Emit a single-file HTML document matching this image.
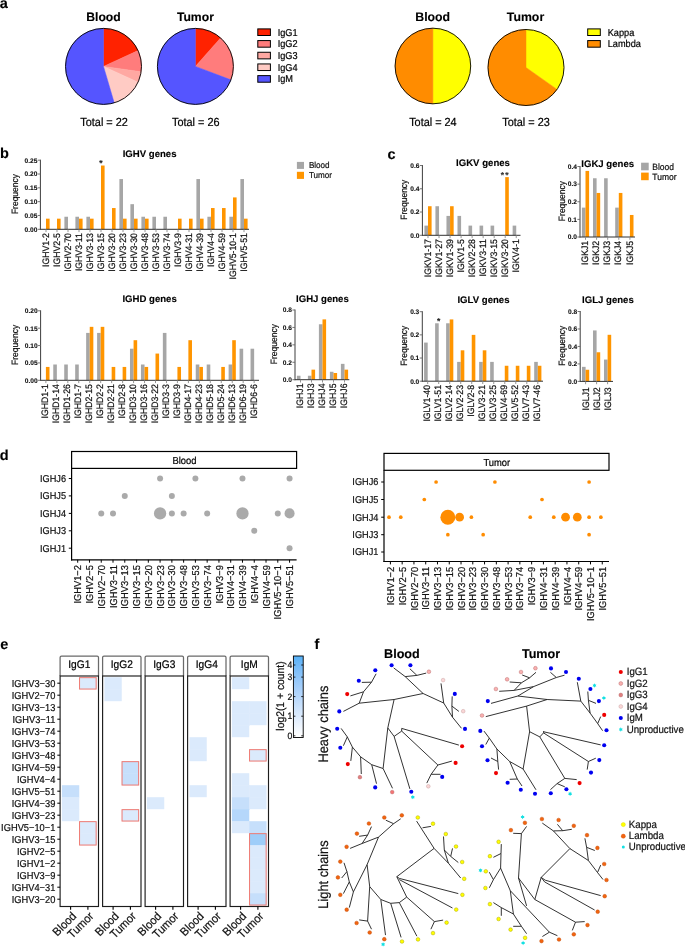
<!DOCTYPE html>
<html><head><meta charset="utf-8"><style>
html,body{margin:0;padding:0;background:#fff;overflow:hidden;width:685px;height:947px;}
svg{display:block;will-change:transform;text-rendering:geometricPrecision;font-family:"Liberation Sans", sans-serif;}
</style></head><body>
<svg width="685" height="947" viewBox="0 0 685 947">
<rect width="685" height="947" fill="#fff"/>
<text x="-0.3" y="7.8" font-size="14.5" text-anchor="start" font-weight="bold" stroke="#000" stroke-width="0.12" fill="#000">a</text>
<text x="0.1" y="158.4" font-size="14.5" text-anchor="start" font-weight="bold" stroke="#000" stroke-width="0.12" fill="#000">b</text>
<text x="387.6" y="158.6" font-size="14.5" text-anchor="start" font-weight="bold" stroke="#000" stroke-width="0.12" fill="#000">c</text>
<text x="-0.2" y="459.7" font-size="14.5" text-anchor="start" font-weight="bold" stroke="#000" stroke-width="0.12" fill="#000">d</text>
<text x="0.3" y="648.8" font-size="14.5" text-anchor="start" font-weight="bold" stroke="#000" stroke-width="0.12" fill="#000">e</text>
<text x="314.5" y="648.8" font-size="14.5" text-anchor="start" font-weight="bold" stroke="#000" stroke-width="0.12" fill="#000">f</text>
<path d="M103.5 66.4L103.5 28.4A38 38 0 0 1 138.07 50.61Z" fill="#ff2200" stroke="#ff2200" stroke-width="0.5" stroke-linejoin="round"/>
<path d="M103.5 66.4L138.07 50.61A38 38 0 0 1 141.11 71.81Z" fill="#ff7c7c" stroke="#ff7c7c" stroke-width="0.5" stroke-linejoin="round"/>
<path d="M103.5 66.4L141.11 71.81A38 38 0 0 1 138.07 82.19Z" fill="#ffa8a2" stroke="#ffa8a2" stroke-width="0.5" stroke-linejoin="round"/>
<path d="M103.5 66.4L138.07 82.19A38 38 0 0 1 114.21 102.86Z" fill="#ffcbc4" stroke="#ffcbc4" stroke-width="0.5" stroke-linejoin="round"/>
<path d="M103.5 66.4L114.21 102.86A38 38 0 1 1 103.5 28.4Z" fill="#5555ff" stroke="#5555ff" stroke-width="0.5" stroke-linejoin="round"/>
<circle cx="103.5" cy="66.4" r="38" fill="none" stroke="#000" stroke-width="0.9"/>
<path d="M195.4 66.4L195.4 28.4A38 38 0 0 1 220.6 37.96Z" fill="#ff2200" stroke="#ff2200" stroke-width="0.5" stroke-linejoin="round"/>
<path d="M195.4 66.4L220.6 37.96A38 38 0 0 1 230.93 79.87Z" fill="#ff7c7c" stroke="#ff7c7c" stroke-width="0.5" stroke-linejoin="round"/>
<path d="M195.4 66.4L230.93 79.87A38 38 0 1 1 195.4 28.4Z" fill="#5555ff" stroke="#5555ff" stroke-width="0.5" stroke-linejoin="round"/>
<circle cx="195.4" cy="66.4" r="38" fill="none" stroke="#000" stroke-width="0.9"/>
<text x="103.5" y="21" font-size="12.2" text-anchor="middle" font-weight="bold" stroke="#000" stroke-width="0.12" fill="#000">Blood</text>
<text x="195.4" y="21" font-size="12.2" text-anchor="middle" font-weight="bold" stroke="#000" stroke-width="0.12" fill="#000">Tumor</text>
<text x="104.1" y="126.3" font-size="10.9" text-anchor="middle" stroke="#000" stroke-width="0.2" fill="#000" transform="translate(0 -10.1) scale(1 1.08)">Total = 22</text>
<text x="195.8" y="126.3" font-size="10.9" text-anchor="middle" stroke="#000" stroke-width="0.2" fill="#000" transform="translate(0 -10.1) scale(1 1.08)">Total = 26</text>
<rect x="257.8" y="28.9" width="12.6" height="6.6" fill="#ff2200" stroke="#000" stroke-width="1"/>
<text x="277.7" y="35.5" font-size="9.2" text-anchor="start" stroke="#000" stroke-width="0.2" fill="#000" transform="translate(0 -2.84) scale(1 1.08)">IgG1</text>
<rect x="257.8" y="40.58" width="12.6" height="6.6" fill="#ff7c7c" stroke="#000" stroke-width="1"/>
<text x="277.7" y="47.18" font-size="9.2" text-anchor="start" stroke="#000" stroke-width="0.2" fill="#000" transform="translate(0 -3.77) scale(1 1.08)">IgG2</text>
<rect x="257.8" y="52.26" width="12.6" height="6.6" fill="#ffa8a2" stroke="#000" stroke-width="1"/>
<text x="277.7" y="58.86" font-size="9.2" text-anchor="start" stroke="#000" stroke-width="0.2" fill="#000" transform="translate(0 -4.71) scale(1 1.08)">IgG3</text>
<rect x="257.8" y="63.94" width="12.6" height="6.6" fill="#ffcbc4" stroke="#000" stroke-width="1"/>
<text x="277.7" y="70.54" font-size="9.2" text-anchor="start" stroke="#000" stroke-width="0.2" fill="#000" transform="translate(0 -5.64) scale(1 1.08)">IgG4</text>
<rect x="257.8" y="75.62" width="12.6" height="6.6" fill="#5555ff" stroke="#000" stroke-width="1"/>
<text x="277.7" y="82.22" font-size="9.2" text-anchor="start" stroke="#000" stroke-width="0.2" fill="#000" transform="translate(0 -6.58) scale(1 1.08)">IgM</text>
<path d="M432.9 66L432.9 28.2A37.8 37.8 0 0 1 432.9 103.8Z" fill="#ffff00" stroke="#ffff00" stroke-width="0.5" stroke-linejoin="round"/>
<path d="M432.9 66L432.9 103.8A37.8 37.8 0 0 1 432.9 28.2Z" fill="#ff8c00" stroke="#ff8c00" stroke-width="0.5" stroke-linejoin="round"/>
<circle cx="432.9" cy="66" r="37.8" fill="none" stroke="#000" stroke-width="0.9"/>
<path d="M526 67.5L526 29.5A38 38 0 0 1 557.04 89.41Z" fill="#ffff00" stroke="#ffff00" stroke-width="0.5" stroke-linejoin="round"/>
<path d="M526 67.5L557.04 89.41A38 38 0 1 1 526 29.5Z" fill="#ff8c00" stroke="#ff8c00" stroke-width="0.5" stroke-linejoin="round"/>
<circle cx="526" cy="67.5" r="38" fill="none" stroke="#000" stroke-width="0.9"/>
<text x="432.7" y="21.1" font-size="12.3" text-anchor="middle" font-weight="bold" stroke="#000" stroke-width="0.12" fill="#000">Blood</text>
<text x="525.5" y="21.1" font-size="12.3" text-anchor="middle" font-weight="bold" stroke="#000" stroke-width="0.12" fill="#000">Tumor</text>
<text x="432.9" y="126.3" font-size="10.9" text-anchor="middle" stroke="#000" stroke-width="0.2" fill="#000" transform="translate(0 -10.1) scale(1 1.08)">Total = 24</text>
<text x="526" y="126.3" font-size="10.9" text-anchor="middle" stroke="#000" stroke-width="0.2" fill="#000" transform="translate(0 -10.1) scale(1 1.08)">Total = 23</text>
<rect x="587.7" y="28.9" width="12.6" height="6.6" fill="#ffff00" stroke="#000" stroke-width="1"/>
<text x="607.7" y="35.5" font-size="9.2" text-anchor="start" stroke="#000" stroke-width="0.2" fill="#000" transform="translate(0 -2.84) scale(1 1.08)">Kappa</text>
<rect x="587.7" y="40.58" width="12.6" height="6.6" fill="#ff8c00" stroke="#000" stroke-width="1"/>
<text x="607.7" y="47.18" font-size="9.2" text-anchor="start" stroke="#000" stroke-width="0.2" fill="#000" transform="translate(0 -3.77) scale(1 1.08)">Lambda</text>
<rect x="46" y="218.67" width="3.6" height="10.63" fill="#ff9500" stroke="none" stroke-width="1"/>
<rect x="57" y="218.67" width="3.6" height="10.63" fill="#ff9500" stroke="none" stroke-width="1"/>
<rect x="64.4" y="216.74" width="3.6" height="12.56" fill="#a6a6a6" stroke="none" stroke-width="1"/>
<rect x="75.4" y="216.74" width="3.6" height="12.56" fill="#a6a6a6" stroke="none" stroke-width="1"/>
<rect x="79" y="218.67" width="3.6" height="10.63" fill="#ff9500" stroke="none" stroke-width="1"/>
<rect x="86.4" y="216.74" width="3.6" height="12.56" fill="#a6a6a6" stroke="none" stroke-width="1"/>
<rect x="90" y="218.67" width="3.6" height="10.63" fill="#ff9500" stroke="none" stroke-width="1"/>
<rect x="101" y="165.52" width="3.6" height="63.78" fill="#ff9500" stroke="none" stroke-width="1"/>
<rect x="112" y="208.04" width="3.6" height="21.26" fill="#ff9500" stroke="none" stroke-width="1"/>
<rect x="119.4" y="179.05" width="3.6" height="50.25" fill="#a6a6a6" stroke="none" stroke-width="1"/>
<rect x="123" y="218.67" width="3.6" height="10.63" fill="#ff9500" stroke="none" stroke-width="1"/>
<rect x="130.4" y="204.17" width="3.6" height="25.13" fill="#a6a6a6" stroke="none" stroke-width="1"/>
<rect x="134" y="218.67" width="3.6" height="10.63" fill="#ff9500" stroke="none" stroke-width="1"/>
<rect x="141.4" y="216.74" width="3.6" height="12.56" fill="#a6a6a6" stroke="none" stroke-width="1"/>
<rect x="145" y="218.67" width="3.6" height="10.63" fill="#ff9500" stroke="none" stroke-width="1"/>
<rect x="152.4" y="216.74" width="3.6" height="12.56" fill="#a6a6a6" stroke="none" stroke-width="1"/>
<rect x="163.4" y="216.74" width="3.6" height="12.56" fill="#a6a6a6" stroke="none" stroke-width="1"/>
<rect x="178" y="218.67" width="3.6" height="10.63" fill="#ff9500" stroke="none" stroke-width="1"/>
<rect x="189" y="218.67" width="3.6" height="10.63" fill="#ff9500" stroke="none" stroke-width="1"/>
<rect x="196.4" y="179.05" width="3.6" height="50.25" fill="#a6a6a6" stroke="none" stroke-width="1"/>
<rect x="200" y="218.67" width="3.6" height="10.63" fill="#ff9500" stroke="none" stroke-width="1"/>
<rect x="207.4" y="216.74" width="3.6" height="12.56" fill="#a6a6a6" stroke="none" stroke-width="1"/>
<rect x="211" y="208.04" width="3.6" height="21.26" fill="#ff9500" stroke="none" stroke-width="1"/>
<rect x="222" y="208.04" width="3.6" height="21.26" fill="#ff9500" stroke="none" stroke-width="1"/>
<rect x="229.4" y="216.74" width="3.6" height="12.56" fill="#a6a6a6" stroke="none" stroke-width="1"/>
<rect x="233" y="197.41" width="3.6" height="31.89" fill="#ff9500" stroke="none" stroke-width="1"/>
<rect x="240.4" y="179.05" width="3.6" height="50.25" fill="#a6a6a6" stroke="none" stroke-width="1"/>
<rect x="244" y="218.67" width="3.6" height="10.63" fill="#ff9500" stroke="none" stroke-width="1"/>
<line x1="40.4" y1="159.7" x2="40.4" y2="229.8" stroke="#333" stroke-width="0.95"/>
<line x1="39.9" y1="229.3" x2="249" y2="229.3" stroke="#333" stroke-width="1"/>
<line x1="37.8" y1="229.3" x2="40.4" y2="229.3" stroke="#666" stroke-width="0.9"/>
<text x="37.4" y="231.65" font-size="6.6" text-anchor="end" font-weight="bold" stroke="#111" stroke-width="0.12" fill="#111">0.00</text>
<line x1="37.8" y1="215.48" x2="40.4" y2="215.48" stroke="#666" stroke-width="0.9"/>
<text x="37.4" y="217.83" font-size="6.6" text-anchor="end" font-weight="bold" stroke="#111" stroke-width="0.12" fill="#111">0.05</text>
<line x1="37.8" y1="201.66" x2="40.4" y2="201.66" stroke="#666" stroke-width="0.9"/>
<text x="37.4" y="204.01" font-size="6.6" text-anchor="end" font-weight="bold" stroke="#111" stroke-width="0.12" fill="#111">0.10</text>
<line x1="37.8" y1="187.84" x2="40.4" y2="187.84" stroke="#666" stroke-width="0.9"/>
<text x="37.4" y="190.19" font-size="6.6" text-anchor="end" font-weight="bold" stroke="#111" stroke-width="0.12" fill="#111">0.15</text>
<line x1="37.8" y1="174.02" x2="40.4" y2="174.02" stroke="#666" stroke-width="0.9"/>
<text x="37.4" y="176.37" font-size="6.6" text-anchor="end" font-weight="bold" stroke="#111" stroke-width="0.12" fill="#111">0.20</text>
<line x1="37.8" y1="160.2" x2="40.4" y2="160.2" stroke="#666" stroke-width="0.9"/>
<text x="37.4" y="162.55" font-size="6.6" text-anchor="end" font-weight="bold" stroke="#111" stroke-width="0.12" fill="#111">0.25</text>
<line x1="46" y1="229.3" x2="46" y2="232.1" stroke="#888" stroke-width="0.9"/>
<text x="48.6" y="233.1" font-size="8.7" text-anchor="end" stroke="#111" stroke-width="0.2" fill="#111" transform="rotate(-90 48.6 233.1) translate(0 -18.65) scale(1 1.08)">IGHV1-2</text>
<line x1="57" y1="229.3" x2="57" y2="232.1" stroke="#888" stroke-width="0.9"/>
<text x="59.6" y="233.1" font-size="8.7" text-anchor="end" stroke="#111" stroke-width="0.2" fill="#111" transform="rotate(-90 59.6 233.1) translate(0 -18.65) scale(1 1.08)">IGHV2-5</text>
<line x1="68" y1="229.3" x2="68" y2="232.1" stroke="#888" stroke-width="0.9"/>
<text x="70.6" y="233.1" font-size="8.7" text-anchor="end" stroke="#111" stroke-width="0.2" fill="#111" transform="rotate(-90 70.6 233.1) translate(0 -18.65) scale(1 1.08)">IGHV2-70</text>
<line x1="79" y1="229.3" x2="79" y2="232.1" stroke="#888" stroke-width="0.9"/>
<text x="81.6" y="233.1" font-size="8.7" text-anchor="end" stroke="#111" stroke-width="0.2" fill="#111" transform="rotate(-90 81.6 233.1) translate(0 -18.65) scale(1 1.08)">IGHV3-11</text>
<line x1="90" y1="229.3" x2="90" y2="232.1" stroke="#888" stroke-width="0.9"/>
<text x="92.6" y="233.1" font-size="8.7" text-anchor="end" stroke="#111" stroke-width="0.2" fill="#111" transform="rotate(-90 92.6 233.1) translate(0 -18.65) scale(1 1.08)">IGHV3-13</text>
<line x1="101" y1="229.3" x2="101" y2="232.1" stroke="#888" stroke-width="0.9"/>
<text x="103.6" y="233.1" font-size="8.7" text-anchor="end" stroke="#111" stroke-width="0.2" fill="#111" transform="rotate(-90 103.6 233.1) translate(0 -18.65) scale(1 1.08)">IGHV3-15</text>
<line x1="112" y1="229.3" x2="112" y2="232.1" stroke="#888" stroke-width="0.9"/>
<text x="114.6" y="233.1" font-size="8.7" text-anchor="end" stroke="#111" stroke-width="0.2" fill="#111" transform="rotate(-90 114.6 233.1) translate(0 -18.65) scale(1 1.08)">IGHV3-20</text>
<line x1="123" y1="229.3" x2="123" y2="232.1" stroke="#888" stroke-width="0.9"/>
<text x="125.6" y="233.1" font-size="8.7" text-anchor="end" stroke="#111" stroke-width="0.2" fill="#111" transform="rotate(-90 125.6 233.1) translate(0 -18.65) scale(1 1.08)">IGHV3-23</text>
<line x1="134" y1="229.3" x2="134" y2="232.1" stroke="#888" stroke-width="0.9"/>
<text x="136.6" y="233.1" font-size="8.7" text-anchor="end" stroke="#111" stroke-width="0.2" fill="#111" transform="rotate(-90 136.6 233.1) translate(0 -18.65) scale(1 1.08)">IGHV3-30</text>
<line x1="145" y1="229.3" x2="145" y2="232.1" stroke="#888" stroke-width="0.9"/>
<text x="147.6" y="233.1" font-size="8.7" text-anchor="end" stroke="#111" stroke-width="0.2" fill="#111" transform="rotate(-90 147.6 233.1) translate(0 -18.65) scale(1 1.08)">IGHV3-48</text>
<line x1="156" y1="229.3" x2="156" y2="232.1" stroke="#888" stroke-width="0.9"/>
<text x="158.6" y="233.1" font-size="8.7" text-anchor="end" stroke="#111" stroke-width="0.2" fill="#111" transform="rotate(-90 158.6 233.1) translate(0 -18.65) scale(1 1.08)">IGHV3-53</text>
<line x1="167" y1="229.3" x2="167" y2="232.1" stroke="#888" stroke-width="0.9"/>
<text x="169.6" y="233.1" font-size="8.7" text-anchor="end" stroke="#111" stroke-width="0.2" fill="#111" transform="rotate(-90 169.6 233.1) translate(0 -18.65) scale(1 1.08)">IGHV3-74</text>
<line x1="178" y1="229.3" x2="178" y2="232.1" stroke="#888" stroke-width="0.9"/>
<text x="180.6" y="233.1" font-size="8.7" text-anchor="end" stroke="#111" stroke-width="0.2" fill="#111" transform="rotate(-90 180.6 233.1) translate(0 -18.65) scale(1 1.08)">IGHV3-9</text>
<line x1="189" y1="229.3" x2="189" y2="232.1" stroke="#888" stroke-width="0.9"/>
<text x="191.6" y="233.1" font-size="8.7" text-anchor="end" stroke="#111" stroke-width="0.2" fill="#111" transform="rotate(-90 191.6 233.1) translate(0 -18.65) scale(1 1.08)">IGHV4-31</text>
<line x1="200" y1="229.3" x2="200" y2="232.1" stroke="#888" stroke-width="0.9"/>
<text x="202.6" y="233.1" font-size="8.7" text-anchor="end" stroke="#111" stroke-width="0.2" fill="#111" transform="rotate(-90 202.6 233.1) translate(0 -18.65) scale(1 1.08)">IGHV4-39</text>
<line x1="211" y1="229.3" x2="211" y2="232.1" stroke="#888" stroke-width="0.9"/>
<text x="213.6" y="233.1" font-size="8.7" text-anchor="end" stroke="#111" stroke-width="0.2" fill="#111" transform="rotate(-90 213.6 233.1) translate(0 -18.65) scale(1 1.08)">IGHV4-4</text>
<line x1="222" y1="229.3" x2="222" y2="232.1" stroke="#888" stroke-width="0.9"/>
<text x="224.6" y="233.1" font-size="8.7" text-anchor="end" stroke="#111" stroke-width="0.2" fill="#111" transform="rotate(-90 224.6 233.1) translate(0 -18.65) scale(1 1.08)">IGHV4-59</text>
<line x1="233" y1="229.3" x2="233" y2="232.1" stroke="#888" stroke-width="0.9"/>
<text x="235.6" y="233.1" font-size="8.7" text-anchor="end" stroke="#111" stroke-width="0.2" fill="#111" transform="rotate(-90 235.6 233.1) translate(0 -18.65) scale(1 1.08)">IGHV5-10-1</text>
<line x1="244" y1="229.3" x2="244" y2="232.1" stroke="#888" stroke-width="0.9"/>
<text x="246.6" y="233.1" font-size="8.7" text-anchor="end" stroke="#111" stroke-width="0.2" fill="#111" transform="rotate(-90 246.6 233.1) translate(0 -18.65) scale(1 1.08)">IGHV5-51</text>
<text x="149.6" y="157.1" font-size="9.6" text-anchor="middle" font-weight="bold" stroke="#000" stroke-width="0.12" fill="#000">IGHV genes</text>
<text x="17.9" y="194.05" font-size="8.5" text-anchor="middle" stroke="#111" stroke-width="0.2" fill="#111" transform="rotate(-90 17.9 194.05) translate(0 -15.52) scale(1 1.08)">Frequency</text>
<text x="101" y="165.5" font-size="8.5" text-anchor="middle" font-weight="bold" stroke="#222" stroke-width="0.12" fill="#222">*</text>
<rect x="296.9" y="161.9" width="7.1" height="7" fill="#a6a6a6" stroke="none" stroke-width="1"/>
<rect x="296.9" y="171.8" width="7.1" height="7.1" fill="#ff9500" stroke="none" stroke-width="1"/>
<text x="308.9" y="168.3" font-size="8.1" text-anchor="start" stroke="#111" stroke-width="0.2" fill="#111" transform="translate(0 -13.46) scale(1 1.08)">Blood</text>
<text x="308.9" y="178.2" font-size="8.1" text-anchor="start" stroke="#111" stroke-width="0.2" fill="#111" transform="translate(0 -14.26) scale(1 1.08)">Tumor</text>
<rect x="45.9" y="366.93" width="3.6" height="13.37" fill="#ff9500" stroke="none" stroke-width="1"/>
<rect x="53.26" y="364.5" width="3.6" height="15.8" fill="#a6a6a6" stroke="none" stroke-width="1"/>
<rect x="64.22" y="364.5" width="3.6" height="15.8" fill="#a6a6a6" stroke="none" stroke-width="1"/>
<rect x="75.18" y="364.5" width="3.6" height="15.8" fill="#a6a6a6" stroke="none" stroke-width="1"/>
<rect x="86.14" y="332.91" width="3.6" height="47.39" fill="#a6a6a6" stroke="none" stroke-width="1"/>
<rect x="89.74" y="326.84" width="3.6" height="53.46" fill="#ff9500" stroke="none" stroke-width="1"/>
<rect x="97.1" y="332.91" width="3.6" height="47.39" fill="#a6a6a6" stroke="none" stroke-width="1"/>
<rect x="100.7" y="326.84" width="3.6" height="53.46" fill="#ff9500" stroke="none" stroke-width="1"/>
<rect x="111.66" y="366.93" width="3.6" height="13.37" fill="#ff9500" stroke="none" stroke-width="1"/>
<rect x="122.62" y="366.93" width="3.6" height="13.37" fill="#ff9500" stroke="none" stroke-width="1"/>
<rect x="129.98" y="348.71" width="3.6" height="31.59" fill="#a6a6a6" stroke="none" stroke-width="1"/>
<rect x="133.58" y="340.2" width="3.6" height="40.1" fill="#ff9500" stroke="none" stroke-width="1"/>
<rect x="140.94" y="364.5" width="3.6" height="15.8" fill="#a6a6a6" stroke="none" stroke-width="1"/>
<rect x="144.54" y="366.93" width="3.6" height="13.37" fill="#ff9500" stroke="none" stroke-width="1"/>
<rect x="155.5" y="353.57" width="3.6" height="26.73" fill="#ff9500" stroke="none" stroke-width="1"/>
<rect x="162.86" y="332.91" width="3.6" height="47.39" fill="#a6a6a6" stroke="none" stroke-width="1"/>
<rect x="177.42" y="366.93" width="3.6" height="13.37" fill="#ff9500" stroke="none" stroke-width="1"/>
<rect x="188.38" y="340.2" width="3.6" height="40.1" fill="#ff9500" stroke="none" stroke-width="1"/>
<rect x="195.74" y="364.5" width="3.6" height="15.8" fill="#a6a6a6" stroke="none" stroke-width="1"/>
<rect x="199.34" y="366.93" width="3.6" height="13.37" fill="#ff9500" stroke="none" stroke-width="1"/>
<rect x="206.7" y="364.5" width="3.6" height="15.8" fill="#a6a6a6" stroke="none" stroke-width="1"/>
<rect x="221.26" y="366.93" width="3.6" height="13.37" fill="#ff9500" stroke="none" stroke-width="1"/>
<rect x="228.62" y="364.5" width="3.6" height="15.8" fill="#a6a6a6" stroke="none" stroke-width="1"/>
<rect x="232.22" y="340.2" width="3.6" height="40.1" fill="#ff9500" stroke="none" stroke-width="1"/>
<rect x="239.58" y="348.71" width="3.6" height="31.59" fill="#a6a6a6" stroke="none" stroke-width="1"/>
<rect x="250.54" y="348.71" width="3.6" height="31.59" fill="#a6a6a6" stroke="none" stroke-width="1"/>
<line x1="40.6" y1="310.3" x2="40.6" y2="380.8" stroke="#333" stroke-width="0.95"/>
<line x1="40.1" y1="380.3" x2="259" y2="380.3" stroke="#333" stroke-width="1"/>
<line x1="38" y1="380.3" x2="40.6" y2="380.3" stroke="#666" stroke-width="0.9"/>
<text x="37.6" y="382.65" font-size="6.6" text-anchor="end" font-weight="bold" stroke="#111" stroke-width="0.12" fill="#111">0.00</text>
<line x1="38" y1="362.93" x2="40.6" y2="362.93" stroke="#666" stroke-width="0.9"/>
<text x="37.6" y="365.28" font-size="6.6" text-anchor="end" font-weight="bold" stroke="#111" stroke-width="0.12" fill="#111">0.05</text>
<line x1="38" y1="345.55" x2="40.6" y2="345.55" stroke="#666" stroke-width="0.9"/>
<text x="37.6" y="347.9" font-size="6.6" text-anchor="end" font-weight="bold" stroke="#111" stroke-width="0.12" fill="#111">0.10</text>
<line x1="38" y1="328.18" x2="40.6" y2="328.18" stroke="#666" stroke-width="0.9"/>
<text x="37.6" y="330.53" font-size="6.6" text-anchor="end" font-weight="bold" stroke="#111" stroke-width="0.12" fill="#111">0.15</text>
<line x1="38" y1="310.8" x2="40.6" y2="310.8" stroke="#666" stroke-width="0.9"/>
<text x="37.6" y="313.15" font-size="6.6" text-anchor="end" font-weight="bold" stroke="#111" stroke-width="0.12" fill="#111">0.20</text>
<line x1="45.9" y1="380.3" x2="45.9" y2="383.1" stroke="#888" stroke-width="0.9"/>
<text x="48.5" y="384.1" font-size="8.7" text-anchor="end" stroke="#111" stroke-width="0.2" fill="#111" transform="rotate(-90 48.5 384.1) translate(0 -30.73) scale(1 1.08)">IGHD1-1</text>
<line x1="56.86" y1="380.3" x2="56.86" y2="383.1" stroke="#888" stroke-width="0.9"/>
<text x="59.46" y="384.1" font-size="8.7" text-anchor="end" stroke="#111" stroke-width="0.2" fill="#111" transform="rotate(-90 59.46 384.1) translate(0 -30.73) scale(1 1.08)">IGHD1-14</text>
<line x1="67.82" y1="380.3" x2="67.82" y2="383.1" stroke="#888" stroke-width="0.9"/>
<text x="70.42" y="384.1" font-size="8.7" text-anchor="end" stroke="#111" stroke-width="0.2" fill="#111" transform="rotate(-90 70.42 384.1) translate(0 -30.73) scale(1 1.08)">IGHD1-26</text>
<line x1="78.78" y1="380.3" x2="78.78" y2="383.1" stroke="#888" stroke-width="0.9"/>
<text x="81.38" y="384.1" font-size="8.7" text-anchor="end" stroke="#111" stroke-width="0.2" fill="#111" transform="rotate(-90 81.38 384.1) translate(0 -30.73) scale(1 1.08)">IGHD1-7</text>
<line x1="89.74" y1="380.3" x2="89.74" y2="383.1" stroke="#888" stroke-width="0.9"/>
<text x="92.34" y="384.1" font-size="8.7" text-anchor="end" stroke="#111" stroke-width="0.2" fill="#111" transform="rotate(-90 92.34 384.1) translate(0 -30.73) scale(1 1.08)">IGHD2-15</text>
<line x1="100.7" y1="380.3" x2="100.7" y2="383.1" stroke="#888" stroke-width="0.9"/>
<text x="103.3" y="384.1" font-size="8.7" text-anchor="end" stroke="#111" stroke-width="0.2" fill="#111" transform="rotate(-90 103.3 384.1) translate(0 -30.73) scale(1 1.08)">IGHD2-2</text>
<line x1="111.66" y1="380.3" x2="111.66" y2="383.1" stroke="#888" stroke-width="0.9"/>
<text x="114.26" y="384.1" font-size="8.7" text-anchor="end" stroke="#111" stroke-width="0.2" fill="#111" transform="rotate(-90 114.26 384.1) translate(0 -30.73) scale(1 1.08)">IGHD2-21</text>
<line x1="122.62" y1="380.3" x2="122.62" y2="383.1" stroke="#888" stroke-width="0.9"/>
<text x="125.22" y="384.1" font-size="8.7" text-anchor="end" stroke="#111" stroke-width="0.2" fill="#111" transform="rotate(-90 125.22 384.1) translate(0 -30.73) scale(1 1.08)">IGHD2-8</text>
<line x1="133.58" y1="380.3" x2="133.58" y2="383.1" stroke="#888" stroke-width="0.9"/>
<text x="136.18" y="384.1" font-size="8.7" text-anchor="end" stroke="#111" stroke-width="0.2" fill="#111" transform="rotate(-90 136.18 384.1) translate(0 -30.73) scale(1 1.08)">IGHD3-10</text>
<line x1="144.54" y1="380.3" x2="144.54" y2="383.1" stroke="#888" stroke-width="0.9"/>
<text x="147.14" y="384.1" font-size="8.7" text-anchor="end" stroke="#111" stroke-width="0.2" fill="#111" transform="rotate(-90 147.14 384.1) translate(0 -30.73) scale(1 1.08)">IGHD3-16</text>
<line x1="155.5" y1="380.3" x2="155.5" y2="383.1" stroke="#888" stroke-width="0.9"/>
<text x="158.1" y="384.1" font-size="8.7" text-anchor="end" stroke="#111" stroke-width="0.2" fill="#111" transform="rotate(-90 158.1 384.1) translate(0 -30.73) scale(1 1.08)">IGHD3-22</text>
<line x1="166.46" y1="380.3" x2="166.46" y2="383.1" stroke="#888" stroke-width="0.9"/>
<text x="169.06" y="384.1" font-size="8.7" text-anchor="end" stroke="#111" stroke-width="0.2" fill="#111" transform="rotate(-90 169.06 384.1) translate(0 -30.73) scale(1 1.08)">IGHD3-3</text>
<line x1="177.42" y1="380.3" x2="177.42" y2="383.1" stroke="#888" stroke-width="0.9"/>
<text x="180.02" y="384.1" font-size="8.7" text-anchor="end" stroke="#111" stroke-width="0.2" fill="#111" transform="rotate(-90 180.02 384.1) translate(0 -30.73) scale(1 1.08)">IGHD3-9</text>
<line x1="188.38" y1="380.3" x2="188.38" y2="383.1" stroke="#888" stroke-width="0.9"/>
<text x="190.98" y="384.1" font-size="8.7" text-anchor="end" stroke="#111" stroke-width="0.2" fill="#111" transform="rotate(-90 190.98 384.1) translate(0 -30.73) scale(1 1.08)">IGHD4-17</text>
<line x1="199.34" y1="380.3" x2="199.34" y2="383.1" stroke="#888" stroke-width="0.9"/>
<text x="201.94" y="384.1" font-size="8.7" text-anchor="end" stroke="#111" stroke-width="0.2" fill="#111" transform="rotate(-90 201.94 384.1) translate(0 -30.73) scale(1 1.08)">IGHD4-23</text>
<line x1="210.3" y1="380.3" x2="210.3" y2="383.1" stroke="#888" stroke-width="0.9"/>
<text x="212.9" y="384.1" font-size="8.7" text-anchor="end" stroke="#111" stroke-width="0.2" fill="#111" transform="rotate(-90 212.9 384.1) translate(0 -30.73) scale(1 1.08)">IGHD5-18</text>
<line x1="221.26" y1="380.3" x2="221.26" y2="383.1" stroke="#888" stroke-width="0.9"/>
<text x="223.86" y="384.1" font-size="8.7" text-anchor="end" stroke="#111" stroke-width="0.2" fill="#111" transform="rotate(-90 223.86 384.1) translate(0 -30.73) scale(1 1.08)">IGHD5-24</text>
<line x1="232.22" y1="380.3" x2="232.22" y2="383.1" stroke="#888" stroke-width="0.9"/>
<text x="234.82" y="384.1" font-size="8.7" text-anchor="end" stroke="#111" stroke-width="0.2" fill="#111" transform="rotate(-90 234.82 384.1) translate(0 -30.73) scale(1 1.08)">IGHD6-13</text>
<line x1="243.18" y1="380.3" x2="243.18" y2="383.1" stroke="#888" stroke-width="0.9"/>
<text x="245.78" y="384.1" font-size="8.7" text-anchor="end" stroke="#111" stroke-width="0.2" fill="#111" transform="rotate(-90 245.78 384.1) translate(0 -30.73) scale(1 1.08)">IGHD6-19</text>
<line x1="254.14" y1="380.3" x2="254.14" y2="383.1" stroke="#888" stroke-width="0.9"/>
<text x="256.74" y="384.1" font-size="8.7" text-anchor="end" stroke="#111" stroke-width="0.2" fill="#111" transform="rotate(-90 256.74 384.1) translate(0 -30.73) scale(1 1.08)">IGHD6-6</text>
<text x="149.6" y="301.6" font-size="9.6" text-anchor="middle" font-weight="bold" stroke="#000" stroke-width="0.12" fill="#000">IGHD genes</text>
<text x="17.9" y="344.85" font-size="8.5" text-anchor="middle" stroke="#111" stroke-width="0.2" fill="#111" transform="rotate(-90 17.9 344.85) translate(0 -27.59) scale(1 1.08)">Frequency</text>
<rect x="296.9" y="375.74" width="3.6" height="3.96" fill="#a6a6a6" stroke="none" stroke-width="1"/>
<rect x="307.9" y="375.74" width="3.6" height="3.96" fill="#a6a6a6" stroke="none" stroke-width="1"/>
<rect x="311.5" y="369.65" width="3.6" height="10.05" fill="#ff9500" stroke="none" stroke-width="1"/>
<rect x="318.9" y="324.26" width="3.6" height="55.44" fill="#a6a6a6" stroke="none" stroke-width="1"/>
<rect x="322.5" y="319.38" width="3.6" height="60.32" fill="#ff9500" stroke="none" stroke-width="1"/>
<rect x="329.9" y="371.78" width="3.6" height="7.92" fill="#a6a6a6" stroke="none" stroke-width="1"/>
<rect x="333.5" y="373" width="3.6" height="6.7" fill="#ff9500" stroke="none" stroke-width="1"/>
<rect x="340.9" y="363.86" width="3.6" height="15.84" fill="#a6a6a6" stroke="none" stroke-width="1"/>
<rect x="344.5" y="369.65" width="3.6" height="10.05" fill="#ff9500" stroke="none" stroke-width="1"/>
<line x1="295" y1="309.5" x2="295" y2="380.2" stroke="#333" stroke-width="0.95"/>
<line x1="294.5" y1="379.7" x2="349.3" y2="379.7" stroke="#333" stroke-width="1"/>
<line x1="292.4" y1="379.7" x2="295" y2="379.7" stroke="#666" stroke-width="0.9"/>
<text x="292" y="382.05" font-size="6.6" text-anchor="end" font-weight="bold" stroke="#111" stroke-width="0.12" fill="#111">0.0</text>
<line x1="292.4" y1="362.27" x2="295" y2="362.27" stroke="#666" stroke-width="0.9"/>
<text x="292" y="364.62" font-size="6.6" text-anchor="end" font-weight="bold" stroke="#111" stroke-width="0.12" fill="#111">0.2</text>
<line x1="292.4" y1="344.85" x2="295" y2="344.85" stroke="#666" stroke-width="0.9"/>
<text x="292" y="347.2" font-size="6.6" text-anchor="end" font-weight="bold" stroke="#111" stroke-width="0.12" fill="#111">0.4</text>
<line x1="292.4" y1="327.43" x2="295" y2="327.43" stroke="#666" stroke-width="0.9"/>
<text x="292" y="329.78" font-size="6.6" text-anchor="end" font-weight="bold" stroke="#111" stroke-width="0.12" fill="#111">0.6</text>
<line x1="292.4" y1="310" x2="295" y2="310" stroke="#666" stroke-width="0.9"/>
<text x="292" y="312.35" font-size="6.6" text-anchor="end" font-weight="bold" stroke="#111" stroke-width="0.12" fill="#111">0.8</text>
<line x1="300.5" y1="379.7" x2="300.5" y2="382.5" stroke="#888" stroke-width="0.9"/>
<text x="303.1" y="383.5" font-size="8.7" text-anchor="end" stroke="#111" stroke-width="0.2" fill="#111" transform="rotate(-90 303.1 383.5) translate(0 -30.68) scale(1 1.08)">IGHJ1</text>
<line x1="311.5" y1="379.7" x2="311.5" y2="382.5" stroke="#888" stroke-width="0.9"/>
<text x="314.1" y="383.5" font-size="8.7" text-anchor="end" stroke="#111" stroke-width="0.2" fill="#111" transform="rotate(-90 314.1 383.5) translate(0 -30.68) scale(1 1.08)">IGHJ3</text>
<line x1="322.5" y1="379.7" x2="322.5" y2="382.5" stroke="#888" stroke-width="0.9"/>
<text x="325.1" y="383.5" font-size="8.7" text-anchor="end" stroke="#111" stroke-width="0.2" fill="#111" transform="rotate(-90 325.1 383.5) translate(0 -30.68) scale(1 1.08)">IGHJ4</text>
<line x1="333.5" y1="379.7" x2="333.5" y2="382.5" stroke="#888" stroke-width="0.9"/>
<text x="336.1" y="383.5" font-size="8.7" text-anchor="end" stroke="#111" stroke-width="0.2" fill="#111" transform="rotate(-90 336.1 383.5) translate(0 -30.68) scale(1 1.08)">IGHJ5</text>
<line x1="344.5" y1="379.7" x2="344.5" y2="382.5" stroke="#888" stroke-width="0.9"/>
<text x="347.1" y="383.5" font-size="8.7" text-anchor="end" stroke="#111" stroke-width="0.2" fill="#111" transform="rotate(-90 347.1 383.5) translate(0 -30.68) scale(1 1.08)">IGHJ6</text>
<text x="322.4" y="301.6" font-size="9.6" text-anchor="middle" font-weight="bold" stroke="#000" stroke-width="0.12" fill="#000">IGHJ genes</text>
<text x="277.2" y="344.15" font-size="8.5" text-anchor="middle" stroke="#111" stroke-width="0.2" fill="#111" transform="rotate(-90 277.2 344.15) translate(0 -27.53) scale(1 1.08)">Frequency</text>
<rect x="424.4" y="225.61" width="3.6" height="9.69" fill="#a6a6a6" stroke="none" stroke-width="1"/>
<rect x="428" y="206.22" width="3.6" height="29.08" fill="#ff9500" stroke="none" stroke-width="1"/>
<rect x="435.43" y="206.22" width="3.6" height="29.08" fill="#a6a6a6" stroke="none" stroke-width="1"/>
<rect x="446.46" y="215.91" width="3.6" height="19.39" fill="#a6a6a6" stroke="none" stroke-width="1"/>
<rect x="450.06" y="206.22" width="3.6" height="29.08" fill="#ff9500" stroke="none" stroke-width="1"/>
<rect x="457.49" y="215.91" width="3.6" height="19.39" fill="#a6a6a6" stroke="none" stroke-width="1"/>
<rect x="468.52" y="225.61" width="3.6" height="9.69" fill="#a6a6a6" stroke="none" stroke-width="1"/>
<rect x="479.55" y="225.61" width="3.6" height="9.69" fill="#a6a6a6" stroke="none" stroke-width="1"/>
<rect x="490.58" y="225.61" width="3.6" height="9.69" fill="#a6a6a6" stroke="none" stroke-width="1"/>
<rect x="505.21" y="177.13" width="3.6" height="58.17" fill="#ff9500" stroke="none" stroke-width="1"/>
<rect x="512.64" y="225.61" width="3.6" height="9.69" fill="#a6a6a6" stroke="none" stroke-width="1"/>
<line x1="422.4" y1="165" x2="422.4" y2="235.8" stroke="#333" stroke-width="0.95"/>
<line x1="421.9" y1="235.3" x2="520.5" y2="235.3" stroke="#333" stroke-width="1"/>
<line x1="419.8" y1="235.3" x2="422.4" y2="235.3" stroke="#666" stroke-width="0.9"/>
<text x="419.4" y="237.65" font-size="6.6" text-anchor="end" font-weight="bold" stroke="#111" stroke-width="0.12" fill="#111">0.0</text>
<line x1="419.8" y1="212.03" x2="422.4" y2="212.03" stroke="#666" stroke-width="0.9"/>
<text x="419.4" y="214.38" font-size="6.6" text-anchor="end" font-weight="bold" stroke="#111" stroke-width="0.12" fill="#111">0.2</text>
<line x1="419.8" y1="188.77" x2="422.4" y2="188.77" stroke="#666" stroke-width="0.9"/>
<text x="419.4" y="191.12" font-size="6.6" text-anchor="end" font-weight="bold" stroke="#111" stroke-width="0.12" fill="#111">0.4</text>
<line x1="419.8" y1="165.5" x2="422.4" y2="165.5" stroke="#666" stroke-width="0.9"/>
<text x="419.4" y="167.85" font-size="6.6" text-anchor="end" font-weight="bold" stroke="#111" stroke-width="0.12" fill="#111">0.6</text>
<line x1="428" y1="235.3" x2="428" y2="238.1" stroke="#888" stroke-width="0.9"/>
<text x="430.6" y="239.1" font-size="8.7" text-anchor="end" stroke="#111" stroke-width="0.2" fill="#111" transform="rotate(-90 430.6 239.1) translate(0 -19.13) scale(1 1.08)">IGKV1-17</text>
<line x1="439.03" y1="235.3" x2="439.03" y2="238.1" stroke="#888" stroke-width="0.9"/>
<text x="441.63" y="239.1" font-size="8.7" text-anchor="end" stroke="#111" stroke-width="0.2" fill="#111" transform="rotate(-90 441.63 239.1) translate(0 -19.13) scale(1 1.08)">IGKV1-27</text>
<line x1="450.06" y1="235.3" x2="450.06" y2="238.1" stroke="#888" stroke-width="0.9"/>
<text x="452.66" y="239.1" font-size="8.7" text-anchor="end" stroke="#111" stroke-width="0.2" fill="#111" transform="rotate(-90 452.66 239.1) translate(0 -19.13) scale(1 1.08)">IGKV1-39</text>
<line x1="461.09" y1="235.3" x2="461.09" y2="238.1" stroke="#888" stroke-width="0.9"/>
<text x="463.69" y="239.1" font-size="8.7" text-anchor="end" stroke="#111" stroke-width="0.2" fill="#111" transform="rotate(-90 463.69 239.1) translate(0 -19.13) scale(1 1.08)">IGKV1-5</text>
<line x1="472.12" y1="235.3" x2="472.12" y2="238.1" stroke="#888" stroke-width="0.9"/>
<text x="474.72" y="239.1" font-size="8.7" text-anchor="end" stroke="#111" stroke-width="0.2" fill="#111" transform="rotate(-90 474.72 239.1) translate(0 -19.13) scale(1 1.08)">IGKV2-28</text>
<line x1="483.15" y1="235.3" x2="483.15" y2="238.1" stroke="#888" stroke-width="0.9"/>
<text x="485.75" y="239.1" font-size="8.7" text-anchor="end" stroke="#111" stroke-width="0.2" fill="#111" transform="rotate(-90 485.75 239.1) translate(0 -19.13) scale(1 1.08)">IGKV3-11</text>
<line x1="494.18" y1="235.3" x2="494.18" y2="238.1" stroke="#888" stroke-width="0.9"/>
<text x="496.78" y="239.1" font-size="8.7" text-anchor="end" stroke="#111" stroke-width="0.2" fill="#111" transform="rotate(-90 496.78 239.1) translate(0 -19.13) scale(1 1.08)">IGKV3-15</text>
<line x1="505.21" y1="235.3" x2="505.21" y2="238.1" stroke="#888" stroke-width="0.9"/>
<text x="507.81" y="239.1" font-size="8.7" text-anchor="end" stroke="#111" stroke-width="0.2" fill="#111" transform="rotate(-90 507.81 239.1) translate(0 -19.13) scale(1 1.08)">IGKV3-20</text>
<line x1="516.24" y1="235.3" x2="516.24" y2="238.1" stroke="#888" stroke-width="0.9"/>
<text x="518.84" y="239.1" font-size="8.7" text-anchor="end" stroke="#111" stroke-width="0.2" fill="#111" transform="rotate(-90 518.84 239.1) translate(0 -19.13) scale(1 1.08)">IGKV4-1</text>
<text x="483" y="166.2" font-size="9.6" text-anchor="middle" font-weight="bold" stroke="#000" stroke-width="0.12" fill="#000">IGKV genes</text>
<text x="406.8" y="199.7" font-size="8.5" text-anchor="middle" stroke="#111" stroke-width="0.2" fill="#111" transform="rotate(-90 406.8 199.7) translate(0 -15.98) scale(1 1.08)">Frequency</text>
<text x="502.41" y="177.5" font-size="8.5" text-anchor="middle" font-weight="bold" stroke="#333" stroke-width="0.12" fill="#333">*</text>
<text x="506.81" y="177.5" font-size="8.5" text-anchor="middle" font-weight="bold" stroke="#333" stroke-width="0.12" fill="#333">*</text>
<rect x="581.9" y="207.62" width="3.6" height="29.38" fill="#a6a6a6" stroke="none" stroke-width="1"/>
<rect x="585.5" y="170.91" width="3.6" height="66.09" fill="#ff9500" stroke="none" stroke-width="1"/>
<rect x="593" y="178.25" width="3.6" height="58.75" fill="#a6a6a6" stroke="none" stroke-width="1"/>
<rect x="596.6" y="192.94" width="3.6" height="44.06" fill="#ff9500" stroke="none" stroke-width="1"/>
<rect x="604.1" y="178.25" width="3.6" height="58.75" fill="#a6a6a6" stroke="none" stroke-width="1"/>
<rect x="615.2" y="207.62" width="3.6" height="29.38" fill="#a6a6a6" stroke="none" stroke-width="1"/>
<rect x="618.8" y="192.94" width="3.6" height="44.06" fill="#ff9500" stroke="none" stroke-width="1"/>
<rect x="629.9" y="214.97" width="3.6" height="22.03" fill="#ff9500" stroke="none" stroke-width="1"/>
<line x1="580" y1="166" x2="580" y2="237.5" stroke="#333" stroke-width="0.95"/>
<line x1="579.5" y1="237" x2="635" y2="237" stroke="#333" stroke-width="1"/>
<line x1="577.4" y1="237" x2="580" y2="237" stroke="#666" stroke-width="0.9"/>
<text x="577" y="239.35" font-size="6.6" text-anchor="end" font-weight="bold" stroke="#111" stroke-width="0.12" fill="#111">0.0</text>
<line x1="577.4" y1="219.38" x2="580" y2="219.38" stroke="#666" stroke-width="0.9"/>
<text x="577" y="221.72" font-size="6.6" text-anchor="end" font-weight="bold" stroke="#111" stroke-width="0.12" fill="#111">0.1</text>
<line x1="577.4" y1="201.75" x2="580" y2="201.75" stroke="#666" stroke-width="0.9"/>
<text x="577" y="204.1" font-size="6.6" text-anchor="end" font-weight="bold" stroke="#111" stroke-width="0.12" fill="#111">0.2</text>
<line x1="577.4" y1="184.12" x2="580" y2="184.12" stroke="#666" stroke-width="0.9"/>
<text x="577" y="186.47" font-size="6.6" text-anchor="end" font-weight="bold" stroke="#111" stroke-width="0.12" fill="#111">0.3</text>
<line x1="577.4" y1="166.5" x2="580" y2="166.5" stroke="#666" stroke-width="0.9"/>
<text x="577" y="168.85" font-size="6.6" text-anchor="end" font-weight="bold" stroke="#111" stroke-width="0.12" fill="#111">0.4</text>
<line x1="585.5" y1="237" x2="585.5" y2="239.8" stroke="#888" stroke-width="0.9"/>
<text x="588.1" y="240.8" font-size="8.7" text-anchor="end" stroke="#111" stroke-width="0.2" fill="#111" transform="rotate(-90 588.1 240.8) translate(0 -19.26) scale(1 1.08)">IGKJ1</text>
<line x1="596.6" y1="237" x2="596.6" y2="239.8" stroke="#888" stroke-width="0.9"/>
<text x="599.2" y="240.8" font-size="8.7" text-anchor="end" stroke="#111" stroke-width="0.2" fill="#111" transform="rotate(-90 599.2 240.8) translate(0 -19.26) scale(1 1.08)">IGKJ2</text>
<line x1="607.7" y1="237" x2="607.7" y2="239.8" stroke="#888" stroke-width="0.9"/>
<text x="610.3" y="240.8" font-size="8.7" text-anchor="end" stroke="#111" stroke-width="0.2" fill="#111" transform="rotate(-90 610.3 240.8) translate(0 -19.26) scale(1 1.08)">IGKJ3</text>
<line x1="618.8" y1="237" x2="618.8" y2="239.8" stroke="#888" stroke-width="0.9"/>
<text x="621.4" y="240.8" font-size="8.7" text-anchor="end" stroke="#111" stroke-width="0.2" fill="#111" transform="rotate(-90 621.4 240.8) translate(0 -19.26) scale(1 1.08)">IGKJ4</text>
<line x1="629.9" y1="237" x2="629.9" y2="239.8" stroke="#888" stroke-width="0.9"/>
<text x="632.5" y="240.8" font-size="8.7" text-anchor="end" stroke="#111" stroke-width="0.2" fill="#111" transform="rotate(-90 632.5 240.8) translate(0 -19.26) scale(1 1.08)">IGKJ5</text>
<text x="607.7" y="166.5" font-size="9.6" text-anchor="middle" font-weight="bold" stroke="#000" stroke-width="0.12" fill="#000">IGKJ genes</text>
<text x="565.3" y="201.05" font-size="8.5" text-anchor="middle" stroke="#111" stroke-width="0.2" fill="#111" transform="rotate(-90 565.3 201.05) translate(0 -16.08) scale(1 1.08)">Frequency</text>
<rect x="641.1" y="162.7" width="7.6" height="7.6" fill="#a6a6a6" stroke="none" stroke-width="1"/>
<rect x="641.1" y="172.6" width="7.6" height="7.6" fill="#ff9500" stroke="none" stroke-width="1"/>
<text x="652.3" y="169.9" font-size="8.5" text-anchor="start" stroke="#111" stroke-width="0.2" fill="#111" transform="translate(0 -13.59) scale(1 1.08)">Blood</text>
<text x="652.3" y="179.7" font-size="8.5" text-anchor="start" stroke="#111" stroke-width="0.2" fill="#111" transform="translate(0 -14.38) scale(1 1.08)">Tumor</text>
<rect x="424.1" y="342.59" width="3.6" height="38.61" fill="#a6a6a6" stroke="none" stroke-width="1"/>
<rect x="435.11" y="323.28" width="3.6" height="57.92" fill="#a6a6a6" stroke="none" stroke-width="1"/>
<rect x="446.12" y="323.28" width="3.6" height="57.92" fill="#a6a6a6" stroke="none" stroke-width="1"/>
<rect x="449.72" y="319.42" width="3.6" height="61.78" fill="#ff9500" stroke="none" stroke-width="1"/>
<rect x="457.13" y="361.89" width="3.6" height="19.31" fill="#a6a6a6" stroke="none" stroke-width="1"/>
<rect x="460.73" y="350.31" width="3.6" height="30.89" fill="#ff9500" stroke="none" stroke-width="1"/>
<rect x="471.74" y="334.87" width="3.6" height="46.33" fill="#ff9500" stroke="none" stroke-width="1"/>
<rect x="479.15" y="361.89" width="3.6" height="19.31" fill="#a6a6a6" stroke="none" stroke-width="1"/>
<rect x="482.75" y="350.31" width="3.6" height="30.89" fill="#ff9500" stroke="none" stroke-width="1"/>
<rect x="490.16" y="361.89" width="3.6" height="19.31" fill="#a6a6a6" stroke="none" stroke-width="1"/>
<rect x="504.77" y="365.76" width="3.6" height="15.44" fill="#ff9500" stroke="none" stroke-width="1"/>
<rect x="515.78" y="365.76" width="3.6" height="15.44" fill="#ff9500" stroke="none" stroke-width="1"/>
<rect x="526.79" y="365.76" width="3.6" height="15.44" fill="#ff9500" stroke="none" stroke-width="1"/>
<rect x="534.2" y="361.89" width="3.6" height="19.31" fill="#a6a6a6" stroke="none" stroke-width="1"/>
<rect x="537.8" y="365.76" width="3.6" height="15.44" fill="#ff9500" stroke="none" stroke-width="1"/>
<line x1="422.3" y1="311.2" x2="422.3" y2="381.7" stroke="#333" stroke-width="0.95"/>
<line x1="421.8" y1="381.2" x2="543" y2="381.2" stroke="#333" stroke-width="1"/>
<line x1="419.7" y1="381.2" x2="422.3" y2="381.2" stroke="#666" stroke-width="0.9"/>
<text x="419.3" y="383.55" font-size="6.6" text-anchor="end" font-weight="bold" stroke="#111" stroke-width="0.12" fill="#111">0.0</text>
<line x1="419.7" y1="358.03" x2="422.3" y2="358.03" stroke="#666" stroke-width="0.9"/>
<text x="419.3" y="360.38" font-size="6.6" text-anchor="end" font-weight="bold" stroke="#111" stroke-width="0.12" fill="#111">0.1</text>
<line x1="419.7" y1="334.87" x2="422.3" y2="334.87" stroke="#666" stroke-width="0.9"/>
<text x="419.3" y="337.22" font-size="6.6" text-anchor="end" font-weight="bold" stroke="#111" stroke-width="0.12" fill="#111">0.2</text>
<line x1="419.7" y1="311.7" x2="422.3" y2="311.7" stroke="#666" stroke-width="0.9"/>
<text x="419.3" y="314.05" font-size="6.6" text-anchor="end" font-weight="bold" stroke="#111" stroke-width="0.12" fill="#111">0.3</text>
<line x1="427.7" y1="381.2" x2="427.7" y2="384" stroke="#888" stroke-width="0.9"/>
<text x="430.3" y="385" font-size="8.7" text-anchor="end" stroke="#111" stroke-width="0.2" fill="#111" transform="rotate(-90 430.3 385) translate(0 -30.8) scale(1 1.08)">IGLV1-40</text>
<line x1="438.71" y1="381.2" x2="438.71" y2="384" stroke="#888" stroke-width="0.9"/>
<text x="441.31" y="385" font-size="8.7" text-anchor="end" stroke="#111" stroke-width="0.2" fill="#111" transform="rotate(-90 441.31 385) translate(0 -30.8) scale(1 1.08)">IGLV1-51</text>
<line x1="449.72" y1="381.2" x2="449.72" y2="384" stroke="#888" stroke-width="0.9"/>
<text x="452.32" y="385" font-size="8.7" text-anchor="end" stroke="#111" stroke-width="0.2" fill="#111" transform="rotate(-90 452.32 385) translate(0 -30.8) scale(1 1.08)">IGLV2-14</text>
<line x1="460.73" y1="381.2" x2="460.73" y2="384" stroke="#888" stroke-width="0.9"/>
<text x="463.33" y="385" font-size="8.7" text-anchor="end" stroke="#111" stroke-width="0.2" fill="#111" transform="rotate(-90 463.33 385) translate(0 -30.8) scale(1 1.08)">IGLV2-23</text>
<line x1="471.74" y1="381.2" x2="471.74" y2="384" stroke="#888" stroke-width="0.9"/>
<text x="474.34" y="385" font-size="8.7" text-anchor="end" stroke="#111" stroke-width="0.2" fill="#111" transform="rotate(-90 474.34 385) translate(0 -30.8) scale(1 1.08)">IGLV2-8</text>
<line x1="482.75" y1="381.2" x2="482.75" y2="384" stroke="#888" stroke-width="0.9"/>
<text x="485.35" y="385" font-size="8.7" text-anchor="end" stroke="#111" stroke-width="0.2" fill="#111" transform="rotate(-90 485.35 385) translate(0 -30.8) scale(1 1.08)">IGLV3-21</text>
<line x1="493.76" y1="381.2" x2="493.76" y2="384" stroke="#888" stroke-width="0.9"/>
<text x="496.36" y="385" font-size="8.7" text-anchor="end" stroke="#111" stroke-width="0.2" fill="#111" transform="rotate(-90 496.36 385) translate(0 -30.8) scale(1 1.08)">IGLV3-25</text>
<line x1="504.77" y1="381.2" x2="504.77" y2="384" stroke="#888" stroke-width="0.9"/>
<text x="507.37" y="385" font-size="8.7" text-anchor="end" stroke="#111" stroke-width="0.2" fill="#111" transform="rotate(-90 507.37 385) translate(0 -30.8) scale(1 1.08)">IGLV4-69</text>
<line x1="515.78" y1="381.2" x2="515.78" y2="384" stroke="#888" stroke-width="0.9"/>
<text x="518.38" y="385" font-size="8.7" text-anchor="end" stroke="#111" stroke-width="0.2" fill="#111" transform="rotate(-90 518.38 385) translate(0 -30.8) scale(1 1.08)">IGLV5-52</text>
<line x1="526.79" y1="381.2" x2="526.79" y2="384" stroke="#888" stroke-width="0.9"/>
<text x="529.39" y="385" font-size="8.7" text-anchor="end" stroke="#111" stroke-width="0.2" fill="#111" transform="rotate(-90 529.39 385) translate(0 -30.8) scale(1 1.08)">IGLV7-43</text>
<line x1="537.8" y1="381.2" x2="537.8" y2="384" stroke="#888" stroke-width="0.9"/>
<text x="540.4" y="385" font-size="8.7" text-anchor="end" stroke="#111" stroke-width="0.2" fill="#111" transform="rotate(-90 540.4 385) translate(0 -30.8) scale(1 1.08)">IGLV7-46</text>
<text x="483.5" y="302.5" font-size="9.6" text-anchor="middle" font-weight="bold" stroke="#000" stroke-width="0.12" fill="#000">IGLV genes</text>
<text x="406.8" y="345.75" font-size="8.5" text-anchor="middle" stroke="#111" stroke-width="0.2" fill="#111" transform="rotate(-90 406.8 345.75) translate(0 -27.66) scale(1 1.08)">Frequency</text>
<text x="438.71" y="323.5" font-size="8.5" text-anchor="middle" font-weight="bold" stroke="#222" stroke-width="0.12" fill="#222">*</text>
<rect x="582" y="366.84" width="3.6" height="14.56" fill="#a6a6a6" stroke="none" stroke-width="1"/>
<rect x="585.6" y="369.75" width="3.6" height="11.65" fill="#ff9500" stroke="none" stroke-width="1"/>
<rect x="593" y="330.43" width="3.6" height="50.97" fill="#a6a6a6" stroke="none" stroke-width="1"/>
<rect x="596.6" y="352.27" width="3.6" height="29.12" fill="#ff9500" stroke="none" stroke-width="1"/>
<rect x="604" y="359.56" width="3.6" height="21.84" fill="#a6a6a6" stroke="none" stroke-width="1"/>
<rect x="607.6" y="334.8" width="3.6" height="46.6" fill="#ff9500" stroke="none" stroke-width="1"/>
<line x1="580.2" y1="311" x2="580.2" y2="381.9" stroke="#333" stroke-width="0.95"/>
<line x1="579.7" y1="381.4" x2="613" y2="381.4" stroke="#333" stroke-width="1"/>
<line x1="577.6" y1="381.4" x2="580.2" y2="381.4" stroke="#666" stroke-width="0.9"/>
<text x="577.2" y="383.75" font-size="6.6" text-anchor="end" font-weight="bold" stroke="#111" stroke-width="0.12" fill="#111">0.0</text>
<line x1="577.6" y1="363.92" x2="580.2" y2="363.92" stroke="#666" stroke-width="0.9"/>
<text x="577.2" y="366.27" font-size="6.6" text-anchor="end" font-weight="bold" stroke="#111" stroke-width="0.12" fill="#111">0.2</text>
<line x1="577.6" y1="346.45" x2="580.2" y2="346.45" stroke="#666" stroke-width="0.9"/>
<text x="577.2" y="348.8" font-size="6.6" text-anchor="end" font-weight="bold" stroke="#111" stroke-width="0.12" fill="#111">0.4</text>
<line x1="577.6" y1="328.98" x2="580.2" y2="328.98" stroke="#666" stroke-width="0.9"/>
<text x="577.2" y="331.33" font-size="6.6" text-anchor="end" font-weight="bold" stroke="#111" stroke-width="0.12" fill="#111">0.6</text>
<line x1="577.6" y1="311.5" x2="580.2" y2="311.5" stroke="#666" stroke-width="0.9"/>
<text x="577.2" y="313.85" font-size="6.6" text-anchor="end" font-weight="bold" stroke="#111" stroke-width="0.12" fill="#111">0.8</text>
<line x1="585.6" y1="381.4" x2="585.6" y2="384.2" stroke="#888" stroke-width="0.9"/>
<text x="588.6" y="387.3" font-size="8.7" text-anchor="end" stroke="#111" stroke-width="0.2" fill="#111" transform="rotate(-90 588.6 387.3) translate(0 -30.98) scale(1 1.08)">IGLJ1</text>
<line x1="596.6" y1="381.4" x2="596.6" y2="384.2" stroke="#888" stroke-width="0.9"/>
<text x="599.6" y="387.3" font-size="8.7" text-anchor="end" stroke="#111" stroke-width="0.2" fill="#111" transform="rotate(-90 599.6 387.3) translate(0 -30.98) scale(1 1.08)">IGLJ2</text>
<line x1="607.6" y1="381.4" x2="607.6" y2="384.2" stroke="#888" stroke-width="0.9"/>
<text x="610.6" y="387.3" font-size="8.7" text-anchor="end" stroke="#111" stroke-width="0.2" fill="#111" transform="rotate(-90 610.6 387.3) translate(0 -30.98) scale(1 1.08)">IGLJ3</text>
<text x="607.9" y="302.5" font-size="9.6" text-anchor="middle" font-weight="bold" stroke="#000" stroke-width="0.12" fill="#000">IGLJ genes</text>
<text x="565.2" y="345.75" font-size="8.5" text-anchor="middle" stroke="#111" stroke-width="0.2" fill="#111" transform="rotate(-90 565.2 345.75) translate(0 -27.66) scale(1 1.08)">Frequency</text>
<rect x="71.6" y="451.5" width="225" height="16.9" fill="#fff" stroke="#000" stroke-width="1.2"/>
<text x="184.4" y="464" font-size="9.4" text-anchor="middle" stroke="#000" stroke-width="0.2" fill="#000" transform="translate(0 -37.12) scale(1 1.08)">Blood</text>
<line x1="71.6" y1="468.4" x2="71.6" y2="560.4" stroke="#000" stroke-width="1.2"/>
<line x1="71" y1="559.8" x2="296.6" y2="559.8" stroke="#000" stroke-width="1.2"/>
<line x1="68.8" y1="478.5" x2="71.6" y2="478.5" stroke="#000" stroke-width="1"/>
<text x="66" y="481.8" font-size="9.2" text-anchor="end" stroke="#111" stroke-width="0.2" fill="#111" transform="translate(0 -38.54) scale(1 1.08)">IGHJ6</text>
<line x1="68.8" y1="495.9" x2="71.6" y2="495.9" stroke="#000" stroke-width="1"/>
<text x="66" y="499.2" font-size="9.2" text-anchor="end" stroke="#111" stroke-width="0.2" fill="#111" transform="translate(0 -39.94) scale(1 1.08)">IGHJ5</text>
<line x1="68.8" y1="513.4" x2="71.6" y2="513.4" stroke="#000" stroke-width="1"/>
<text x="66" y="516.7" font-size="9.2" text-anchor="end" stroke="#111" stroke-width="0.2" fill="#111" transform="translate(0 -41.34) scale(1 1.08)">IGHJ4</text>
<line x1="68.8" y1="530.8" x2="71.6" y2="530.8" stroke="#000" stroke-width="1"/>
<text x="66" y="534.1" font-size="9.2" text-anchor="end" stroke="#111" stroke-width="0.2" fill="#111" transform="translate(0 -42.73) scale(1 1.08)">IGHJ3</text>
<line x1="68.8" y1="548.2" x2="71.6" y2="548.2" stroke="#000" stroke-width="1"/>
<text x="66" y="551.5" font-size="9.2" text-anchor="end" stroke="#111" stroke-width="0.2" fill="#111" transform="translate(0 -44.12) scale(1 1.08)">IGHJ1</text>
<line x1="77.7" y1="559.8" x2="77.7" y2="562.7" stroke="#000" stroke-width="1"/>
<text x="81.3" y="565.1" font-size="9.3" text-anchor="end" stroke="#111" stroke-width="0.2" fill="#111" transform="rotate(-90 81.3 565.1) translate(0 -45.21) scale(1 1.08)">IGHV1−2</text>
<line x1="89.47" y1="559.8" x2="89.47" y2="562.7" stroke="#000" stroke-width="1"/>
<text x="93.07" y="565.1" font-size="9.3" text-anchor="end" stroke="#111" stroke-width="0.2" fill="#111" transform="rotate(-90 93.07 565.1) translate(0 -45.21) scale(1 1.08)">IGHV2−5</text>
<line x1="101.24" y1="559.8" x2="101.24" y2="562.7" stroke="#000" stroke-width="1"/>
<text x="104.84" y="565.1" font-size="9.3" text-anchor="end" stroke="#111" stroke-width="0.2" fill="#111" transform="rotate(-90 104.84 565.1) translate(0 -45.21) scale(1 1.08)">IGHV2−70</text>
<line x1="113.01" y1="559.8" x2="113.01" y2="562.7" stroke="#000" stroke-width="1"/>
<text x="116.61" y="565.1" font-size="9.3" text-anchor="end" stroke="#111" stroke-width="0.2" fill="#111" transform="rotate(-90 116.61 565.1) translate(0 -45.21) scale(1 1.08)">IGHV3−11</text>
<line x1="124.78" y1="559.8" x2="124.78" y2="562.7" stroke="#000" stroke-width="1"/>
<text x="128.38" y="565.1" font-size="9.3" text-anchor="end" stroke="#111" stroke-width="0.2" fill="#111" transform="rotate(-90 128.38 565.1) translate(0 -45.21) scale(1 1.08)">IGHV3−13</text>
<line x1="136.55" y1="559.8" x2="136.55" y2="562.7" stroke="#000" stroke-width="1"/>
<text x="140.15" y="565.1" font-size="9.3" text-anchor="end" stroke="#111" stroke-width="0.2" fill="#111" transform="rotate(-90 140.15 565.1) translate(0 -45.21) scale(1 1.08)">IGHV3−15</text>
<line x1="148.32" y1="559.8" x2="148.32" y2="562.7" stroke="#000" stroke-width="1"/>
<text x="151.92" y="565.1" font-size="9.3" text-anchor="end" stroke="#111" stroke-width="0.2" fill="#111" transform="rotate(-90 151.92 565.1) translate(0 -45.21) scale(1 1.08)">IGHV3−20</text>
<line x1="160.09" y1="559.8" x2="160.09" y2="562.7" stroke="#000" stroke-width="1"/>
<text x="163.69" y="565.1" font-size="9.3" text-anchor="end" stroke="#111" stroke-width="0.2" fill="#111" transform="rotate(-90 163.69 565.1) translate(0 -45.21) scale(1 1.08)">IGHV3−23</text>
<line x1="171.86" y1="559.8" x2="171.86" y2="562.7" stroke="#000" stroke-width="1"/>
<text x="175.46" y="565.1" font-size="9.3" text-anchor="end" stroke="#111" stroke-width="0.2" fill="#111" transform="rotate(-90 175.46 565.1) translate(0 -45.21) scale(1 1.08)">IGHV3−30</text>
<line x1="183.63" y1="559.8" x2="183.63" y2="562.7" stroke="#000" stroke-width="1"/>
<text x="187.23" y="565.1" font-size="9.3" text-anchor="end" stroke="#111" stroke-width="0.2" fill="#111" transform="rotate(-90 187.23 565.1) translate(0 -45.21) scale(1 1.08)">IGHV3−48</text>
<line x1="195.4" y1="559.8" x2="195.4" y2="562.7" stroke="#000" stroke-width="1"/>
<text x="199" y="565.1" font-size="9.3" text-anchor="end" stroke="#111" stroke-width="0.2" fill="#111" transform="rotate(-90 199 565.1) translate(0 -45.21) scale(1 1.08)">IGHV3−53</text>
<line x1="207.17" y1="559.8" x2="207.17" y2="562.7" stroke="#000" stroke-width="1"/>
<text x="210.77" y="565.1" font-size="9.3" text-anchor="end" stroke="#111" stroke-width="0.2" fill="#111" transform="rotate(-90 210.77 565.1) translate(0 -45.21) scale(1 1.08)">IGHV3−74</text>
<line x1="218.94" y1="559.8" x2="218.94" y2="562.7" stroke="#000" stroke-width="1"/>
<text x="222.54" y="565.1" font-size="9.3" text-anchor="end" stroke="#111" stroke-width="0.2" fill="#111" transform="rotate(-90 222.54 565.1) translate(0 -45.21) scale(1 1.08)">IGHV3−9</text>
<line x1="230.71" y1="559.8" x2="230.71" y2="562.7" stroke="#000" stroke-width="1"/>
<text x="234.31" y="565.1" font-size="9.3" text-anchor="end" stroke="#111" stroke-width="0.2" fill="#111" transform="rotate(-90 234.31 565.1) translate(0 -45.21) scale(1 1.08)">IGHV4−31</text>
<line x1="242.48" y1="559.8" x2="242.48" y2="562.7" stroke="#000" stroke-width="1"/>
<text x="246.08" y="565.1" font-size="9.3" text-anchor="end" stroke="#111" stroke-width="0.2" fill="#111" transform="rotate(-90 246.08 565.1) translate(0 -45.21) scale(1 1.08)">IGHV4−39</text>
<line x1="254.25" y1="559.8" x2="254.25" y2="562.7" stroke="#000" stroke-width="1"/>
<text x="257.85" y="565.1" font-size="9.3" text-anchor="end" stroke="#111" stroke-width="0.2" fill="#111" transform="rotate(-90 257.85 565.1) translate(0 -45.21) scale(1 1.08)">IGHV4−4</text>
<line x1="266.02" y1="559.8" x2="266.02" y2="562.7" stroke="#000" stroke-width="1"/>
<text x="269.62" y="565.1" font-size="9.3" text-anchor="end" stroke="#111" stroke-width="0.2" fill="#111" transform="rotate(-90 269.62 565.1) translate(0 -45.21) scale(1 1.08)">IGHV4−59</text>
<line x1="277.79" y1="559.8" x2="277.79" y2="562.7" stroke="#000" stroke-width="1"/>
<text x="281.39" y="565.1" font-size="9.3" text-anchor="end" stroke="#111" stroke-width="0.2" fill="#111" transform="rotate(-90 281.39 565.1) translate(0 -45.21) scale(1 1.08)">IGHV5−10−1</text>
<line x1="289.56" y1="559.8" x2="289.56" y2="562.7" stroke="#000" stroke-width="1"/>
<text x="293.16" y="565.1" font-size="9.3" text-anchor="end" stroke="#111" stroke-width="0.2" fill="#111" transform="rotate(-90 293.16 565.1) translate(0 -45.21) scale(1 1.08)">IGHV5−51</text>
<circle cx="101.24" cy="513.4" r="3" fill="#aaaaaa" stroke="none" stroke-width="1"/>
<circle cx="113.01" cy="513.4" r="3" fill="#aaaaaa" stroke="none" stroke-width="1"/>
<circle cx="124.78" cy="495.9" r="3" fill="#aaaaaa" stroke="none" stroke-width="1"/>
<circle cx="160.09" cy="478.5" r="3" fill="#aaaaaa" stroke="none" stroke-width="1"/>
<circle cx="160.09" cy="513.4" r="6.15" fill="#aaaaaa" stroke="none" stroke-width="1"/>
<circle cx="171.86" cy="495.9" r="3" fill="#aaaaaa" stroke="none" stroke-width="1"/>
<circle cx="171.86" cy="513.4" r="3" fill="#aaaaaa" stroke="none" stroke-width="1"/>
<circle cx="183.63" cy="513.4" r="3" fill="#aaaaaa" stroke="none" stroke-width="1"/>
<circle cx="195.4" cy="478.5" r="3" fill="#aaaaaa" stroke="none" stroke-width="1"/>
<circle cx="207.17" cy="513.4" r="3" fill="#aaaaaa" stroke="none" stroke-width="1"/>
<circle cx="242.48" cy="478.5" r="3" fill="#aaaaaa" stroke="none" stroke-width="1"/>
<circle cx="242.48" cy="513.4" r="6.15" fill="#aaaaaa" stroke="none" stroke-width="1"/>
<circle cx="254.25" cy="530.8" r="3" fill="#aaaaaa" stroke="none" stroke-width="1"/>
<circle cx="277.79" cy="513.4" r="3" fill="#aaaaaa" stroke="none" stroke-width="1"/>
<circle cx="289.56" cy="478.5" r="3" fill="#aaaaaa" stroke="none" stroke-width="1"/>
<circle cx="289.56" cy="513.4" r="5.05" fill="#aaaaaa" stroke="none" stroke-width="1"/>
<circle cx="289.56" cy="548.2" r="3" fill="#aaaaaa" stroke="none" stroke-width="1"/>
<rect x="384" y="453.4" width="225" height="16.9" fill="#fff" stroke="#000" stroke-width="1.2"/>
<text x="496.8" y="465.9" font-size="9.4" text-anchor="middle" stroke="#000" stroke-width="0.2" fill="#000" transform="translate(0 -37.27) scale(1 1.08)">Tumor</text>
<line x1="384" y1="470.3" x2="384" y2="562.1" stroke="#000" stroke-width="1.2"/>
<line x1="383.4" y1="561.5" x2="609" y2="561.5" stroke="#000" stroke-width="1.2"/>
<line x1="381.2" y1="482" x2="384" y2="482" stroke="#000" stroke-width="1"/>
<text x="378.4" y="485.3" font-size="9.2" text-anchor="end" stroke="#111" stroke-width="0.2" fill="#111" transform="translate(0 -38.82) scale(1 1.08)">IGHJ6</text>
<line x1="381.2" y1="499.5" x2="384" y2="499.5" stroke="#000" stroke-width="1"/>
<text x="378.4" y="502.8" font-size="9.2" text-anchor="end" stroke="#111" stroke-width="0.2" fill="#111" transform="translate(0 -40.22) scale(1 1.08)">IGHJ5</text>
<line x1="381.2" y1="517.2" x2="384" y2="517.2" stroke="#000" stroke-width="1"/>
<text x="378.4" y="520.5" font-size="9.2" text-anchor="end" stroke="#111" stroke-width="0.2" fill="#111" transform="translate(0 -41.64) scale(1 1.08)">IGHJ4</text>
<line x1="381.2" y1="534.7" x2="384" y2="534.7" stroke="#000" stroke-width="1"/>
<text x="378.4" y="538" font-size="9.2" text-anchor="end" stroke="#111" stroke-width="0.2" fill="#111" transform="translate(0 -43.04) scale(1 1.08)">IGHJ3</text>
<line x1="381.2" y1="552" x2="384" y2="552" stroke="#000" stroke-width="1"/>
<text x="378.4" y="555.3" font-size="9.2" text-anchor="end" stroke="#111" stroke-width="0.2" fill="#111" transform="translate(0 -44.42) scale(1 1.08)">IGHJ1</text>
<line x1="390.4" y1="561.5" x2="390.4" y2="564.4" stroke="#000" stroke-width="1"/>
<text x="394" y="566.8" font-size="9.3" text-anchor="end" stroke="#111" stroke-width="0.2" fill="#111" transform="rotate(-90 394 566.8) translate(0 -45.34) scale(1 1.08)">IGHV1−2</text>
<line x1="402.17" y1="561.5" x2="402.17" y2="564.4" stroke="#000" stroke-width="1"/>
<text x="405.77" y="566.8" font-size="9.3" text-anchor="end" stroke="#111" stroke-width="0.2" fill="#111" transform="rotate(-90 405.77 566.8) translate(0 -45.34) scale(1 1.08)">IGHV2−5</text>
<line x1="413.94" y1="561.5" x2="413.94" y2="564.4" stroke="#000" stroke-width="1"/>
<text x="417.54" y="566.8" font-size="9.3" text-anchor="end" stroke="#111" stroke-width="0.2" fill="#111" transform="rotate(-90 417.54 566.8) translate(0 -45.34) scale(1 1.08)">IGHV2−70</text>
<line x1="425.71" y1="561.5" x2="425.71" y2="564.4" stroke="#000" stroke-width="1"/>
<text x="429.31" y="566.8" font-size="9.3" text-anchor="end" stroke="#111" stroke-width="0.2" fill="#111" transform="rotate(-90 429.31 566.8) translate(0 -45.34) scale(1 1.08)">IGHV3−11</text>
<line x1="437.48" y1="561.5" x2="437.48" y2="564.4" stroke="#000" stroke-width="1"/>
<text x="441.08" y="566.8" font-size="9.3" text-anchor="end" stroke="#111" stroke-width="0.2" fill="#111" transform="rotate(-90 441.08 566.8) translate(0 -45.34) scale(1 1.08)">IGHV3−13</text>
<line x1="449.25" y1="561.5" x2="449.25" y2="564.4" stroke="#000" stroke-width="1"/>
<text x="452.85" y="566.8" font-size="9.3" text-anchor="end" stroke="#111" stroke-width="0.2" fill="#111" transform="rotate(-90 452.85 566.8) translate(0 -45.34) scale(1 1.08)">IGHV3−15</text>
<line x1="461.02" y1="561.5" x2="461.02" y2="564.4" stroke="#000" stroke-width="1"/>
<text x="464.62" y="566.8" font-size="9.3" text-anchor="end" stroke="#111" stroke-width="0.2" fill="#111" transform="rotate(-90 464.62 566.8) translate(0 -45.34) scale(1 1.08)">IGHV3−20</text>
<line x1="472.79" y1="561.5" x2="472.79" y2="564.4" stroke="#000" stroke-width="1"/>
<text x="476.39" y="566.8" font-size="9.3" text-anchor="end" stroke="#111" stroke-width="0.2" fill="#111" transform="rotate(-90 476.39 566.8) translate(0 -45.34) scale(1 1.08)">IGHV3−23</text>
<line x1="484.56" y1="561.5" x2="484.56" y2="564.4" stroke="#000" stroke-width="1"/>
<text x="488.16" y="566.8" font-size="9.3" text-anchor="end" stroke="#111" stroke-width="0.2" fill="#111" transform="rotate(-90 488.16 566.8) translate(0 -45.34) scale(1 1.08)">IGHV3−30</text>
<line x1="496.33" y1="561.5" x2="496.33" y2="564.4" stroke="#000" stroke-width="1"/>
<text x="499.93" y="566.8" font-size="9.3" text-anchor="end" stroke="#111" stroke-width="0.2" fill="#111" transform="rotate(-90 499.93 566.8) translate(0 -45.34) scale(1 1.08)">IGHV3−48</text>
<line x1="508.1" y1="561.5" x2="508.1" y2="564.4" stroke="#000" stroke-width="1"/>
<text x="511.7" y="566.8" font-size="9.3" text-anchor="end" stroke="#111" stroke-width="0.2" fill="#111" transform="rotate(-90 511.7 566.8) translate(0 -45.34) scale(1 1.08)">IGHV3−53</text>
<line x1="519.87" y1="561.5" x2="519.87" y2="564.4" stroke="#000" stroke-width="1"/>
<text x="523.47" y="566.8" font-size="9.3" text-anchor="end" stroke="#111" stroke-width="0.2" fill="#111" transform="rotate(-90 523.47 566.8) translate(0 -45.34) scale(1 1.08)">IGHV3−74</text>
<line x1="531.64" y1="561.5" x2="531.64" y2="564.4" stroke="#000" stroke-width="1"/>
<text x="535.24" y="566.8" font-size="9.3" text-anchor="end" stroke="#111" stroke-width="0.2" fill="#111" transform="rotate(-90 535.24 566.8) translate(0 -45.34) scale(1 1.08)">IGHV3−9</text>
<line x1="543.41" y1="561.5" x2="543.41" y2="564.4" stroke="#000" stroke-width="1"/>
<text x="547.01" y="566.8" font-size="9.3" text-anchor="end" stroke="#111" stroke-width="0.2" fill="#111" transform="rotate(-90 547.01 566.8) translate(0 -45.34) scale(1 1.08)">IGHV4−31</text>
<line x1="555.18" y1="561.5" x2="555.18" y2="564.4" stroke="#000" stroke-width="1"/>
<text x="558.78" y="566.8" font-size="9.3" text-anchor="end" stroke="#111" stroke-width="0.2" fill="#111" transform="rotate(-90 558.78 566.8) translate(0 -45.34) scale(1 1.08)">IGHV4−39</text>
<line x1="566.95" y1="561.5" x2="566.95" y2="564.4" stroke="#000" stroke-width="1"/>
<text x="570.55" y="566.8" font-size="9.3" text-anchor="end" stroke="#111" stroke-width="0.2" fill="#111" transform="rotate(-90 570.55 566.8) translate(0 -45.34) scale(1 1.08)">IGHV4−4</text>
<line x1="578.72" y1="561.5" x2="578.72" y2="564.4" stroke="#000" stroke-width="1"/>
<text x="582.32" y="566.8" font-size="9.3" text-anchor="end" stroke="#111" stroke-width="0.2" fill="#111" transform="rotate(-90 582.32 566.8) translate(0 -45.34) scale(1 1.08)">IGHV4−59</text>
<line x1="590.49" y1="561.5" x2="590.49" y2="564.4" stroke="#000" stroke-width="1"/>
<text x="594.09" y="566.8" font-size="9.3" text-anchor="end" stroke="#111" stroke-width="0.2" fill="#111" transform="rotate(-90 594.09 566.8) translate(0 -45.34) scale(1 1.08)">IGHV5−10−1</text>
<line x1="602.26" y1="561.5" x2="602.26" y2="564.4" stroke="#000" stroke-width="1"/>
<text x="605.86" y="566.8" font-size="9.3" text-anchor="end" stroke="#111" stroke-width="0.2" fill="#111" transform="rotate(-90 605.86 566.8) translate(0 -45.34) scale(1 1.08)">IGHV5−51</text>
<circle cx="389" cy="517.2" r="1.85" fill="#ff8c00" stroke="none" stroke-width="1"/>
<circle cx="400.77" cy="517.2" r="1.85" fill="#ff8c00" stroke="none" stroke-width="1"/>
<circle cx="424.31" cy="499.5" r="1.85" fill="#ff8c00" stroke="none" stroke-width="1"/>
<circle cx="436.08" cy="482" r="1.85" fill="#ff8c00" stroke="none" stroke-width="1"/>
<circle cx="447.85" cy="517.2" r="7.47" fill="#ff8c00" stroke="none" stroke-width="1"/>
<circle cx="447.85" cy="534.7" r="1.85" fill="#ff8c00" stroke="none" stroke-width="1"/>
<circle cx="459.62" cy="517.2" r="4.38" fill="#ff8c00" stroke="none" stroke-width="1"/>
<circle cx="471.39" cy="517.2" r="1.85" fill="#ff8c00" stroke="none" stroke-width="1"/>
<circle cx="483.16" cy="534.7" r="1.85" fill="#ff8c00" stroke="none" stroke-width="1"/>
<circle cx="494.93" cy="482" r="1.85" fill="#ff8c00" stroke="none" stroke-width="1"/>
<circle cx="530.24" cy="517.2" r="1.85" fill="#ff8c00" stroke="none" stroke-width="1"/>
<circle cx="542.01" cy="499.5" r="1.85" fill="#ff8c00" stroke="none" stroke-width="1"/>
<circle cx="553.78" cy="517.2" r="1.85" fill="#ff8c00" stroke="none" stroke-width="1"/>
<circle cx="565.55" cy="517.2" r="4.38" fill="#ff8c00" stroke="none" stroke-width="1"/>
<circle cx="577.32" cy="517.2" r="4.38" fill="#ff8c00" stroke="none" stroke-width="1"/>
<circle cx="589.09" cy="482" r="1.85" fill="#ff8c00" stroke="none" stroke-width="1"/>
<circle cx="589.09" cy="517.2" r="1.85" fill="#ff8c00" stroke="none" stroke-width="1"/>
<circle cx="589.09" cy="534.7" r="1.85" fill="#ff8c00" stroke="none" stroke-width="1"/>
<circle cx="600.86" cy="517.2" r="1.85" fill="#ff8c00" stroke="none" stroke-width="1"/>
<rect x="79.25" y="677.2" width="17.3" height="12" fill="#dbeafc" stroke="none" stroke-width="1"/>
<rect x="61.95" y="785.2" width="17.3" height="12.5" fill="#c6dffb" stroke="none" stroke-width="1"/>
<rect x="61.95" y="797.2" width="17.3" height="12.5" fill="#dbeafc" stroke="none" stroke-width="1"/>
<rect x="61.95" y="809.2" width="17.3" height="12" fill="#dbeafc" stroke="none" stroke-width="1"/>
<rect x="79.25" y="821.2" width="17.3" height="12.5" fill="#dbeafc" stroke="none" stroke-width="1"/>
<rect x="79.25" y="833.2" width="17.3" height="12" fill="#dbeafc" stroke="none" stroke-width="1"/>
<rect x="104.45" y="677.2" width="17.3" height="12.5" fill="#dbeafc" stroke="none" stroke-width="1"/>
<rect x="104.45" y="689.2" width="17.3" height="12" fill="#dbeafc" stroke="none" stroke-width="1"/>
<rect x="121.75" y="761.2" width="17.3" height="12.5" fill="#c6dffb" stroke="none" stroke-width="1"/>
<rect x="121.75" y="773.2" width="17.3" height="12" fill="#c6dffb" stroke="none" stroke-width="1"/>
<rect x="121.75" y="809.2" width="17.3" height="12" fill="#dbeafc" stroke="none" stroke-width="1"/>
<rect x="146.95" y="797.2" width="17.3" height="12" fill="#dbeafc" stroke="none" stroke-width="1"/>
<rect x="189.45" y="737.2" width="17.3" height="12.5" fill="#dbeafc" stroke="none" stroke-width="1"/>
<rect x="189.45" y="749.2" width="17.3" height="12" fill="#dbeafc" stroke="none" stroke-width="1"/>
<rect x="189.45" y="785.2" width="17.3" height="12" fill="#dbeafc" stroke="none" stroke-width="1"/>
<rect x="231.95" y="677.2" width="17.3" height="12" fill="#dbeafc" stroke="none" stroke-width="1"/>
<rect x="231.95" y="701.2" width="17.8" height="12.5" fill="#dbeafc" stroke="none" stroke-width="1"/>
<rect x="231.95" y="713.2" width="17.8" height="12.5" fill="#dbeafc" stroke="none" stroke-width="1"/>
<rect x="231.95" y="725.2" width="17.3" height="12" fill="#dbeafc" stroke="none" stroke-width="1"/>
<rect x="231.95" y="773.2" width="17.3" height="12.5" fill="#dbeafc" stroke="none" stroke-width="1"/>
<rect x="231.95" y="785.2" width="17.8" height="12.5" fill="#dbeafc" stroke="none" stroke-width="1"/>
<rect x="231.95" y="797.2" width="17.8" height="12.5" fill="#c6dffb" stroke="none" stroke-width="1"/>
<rect x="231.95" y="809.2" width="17.3" height="12.5" fill="#b5d7fb" stroke="none" stroke-width="1"/>
<rect x="231.95" y="821.2" width="17.8" height="12" fill="#dbeafc" stroke="none" stroke-width="1"/>
<rect x="249.25" y="701.2" width="17.3" height="12.5" fill="#dbeafc" stroke="none" stroke-width="1"/>
<rect x="249.25" y="713.2" width="17.3" height="12" fill="#dbeafc" stroke="none" stroke-width="1"/>
<rect x="249.25" y="749.2" width="17.3" height="12" fill="#dbeafc" stroke="none" stroke-width="1"/>
<rect x="249.25" y="785.2" width="17.3" height="12.5" fill="#dbeafc" stroke="none" stroke-width="1"/>
<rect x="249.25" y="797.2" width="17.3" height="12" fill="#dbeafc" stroke="none" stroke-width="1"/>
<rect x="249.25" y="821.2" width="17.3" height="12.5" fill="#c6dffb" stroke="none" stroke-width="1"/>
<rect x="249.25" y="833.2" width="17.3" height="12.5" fill="#9ecdf9" stroke="none" stroke-width="1"/>
<rect x="249.25" y="845.2" width="17.3" height="12.5" fill="#dbeafc" stroke="none" stroke-width="1"/>
<rect x="249.25" y="857.2" width="17.3" height="12.5" fill="#dbeafc" stroke="none" stroke-width="1"/>
<rect x="249.25" y="869.2" width="17.3" height="12.5" fill="#dbeafc" stroke="none" stroke-width="1"/>
<rect x="249.25" y="881.2" width="17.3" height="12.5" fill="#dbeafc" stroke="none" stroke-width="1"/>
<rect x="249.25" y="893.2" width="17.3" height="12" fill="#c6dffb" stroke="none" stroke-width="1"/>
<rect x="79.55" y="677.65" width="16.6" height="11.4" fill="none" stroke="#f07a72" stroke-width="1"/>
<rect x="79.55" y="821.65" width="16.6" height="23.4" fill="none" stroke="#f07a72" stroke-width="1"/>
<rect x="122.05" y="761.65" width="16.6" height="23.4" fill="none" stroke="#f07a72" stroke-width="1"/>
<rect x="122.05" y="809.65" width="16.6" height="11.4" fill="none" stroke="#f07a72" stroke-width="1"/>
<rect x="249.55" y="749.65" width="16.6" height="11.4" fill="none" stroke="#f07a72" stroke-width="1"/>
<rect x="249.55" y="833.65" width="16.6" height="71.4" fill="none" stroke="#f07a72" stroke-width="1"/>
<path d="M60.1 676V657.4Q60.1 656 61.5 656H97.1Q98.5 656 98.5 657.4V676" fill="#fff" stroke="#6a6a6a" stroke-width="1.25"/>
<text x="79.3" y="668.4" font-size="10.2" text-anchor="middle" stroke="#000" stroke-width="0.2" fill="#000" transform="translate(0 -53.47) scale(1 1.08)">IgG1</text>
<rect x="60.1" y="676" width="38.4" height="230.5" fill="none" stroke="#1c1c1c" stroke-width="1.15"/>
<line x1="70.6" y1="906.5" x2="70.6" y2="909.7" stroke="#000" stroke-width="1.1"/>
<text x="77" y="917" font-size="10.9" text-anchor="end" stroke="#111" stroke-width="0.2" fill="#111" transform="rotate(-45 77 917) translate(0 -73.36) scale(1 1.08)">Blood</text>
<line x1="87.9" y1="906.5" x2="87.9" y2="909.7" stroke="#000" stroke-width="1.1"/>
<text x="94.3" y="917" font-size="10.9" text-anchor="end" stroke="#111" stroke-width="0.2" fill="#111" transform="rotate(-45 94.3 917) translate(0 -73.36) scale(1 1.08)">Tumor</text>
<path d="M102.6 676V657.4Q102.6 656 104 656H139.6Q141 656 141 657.4V676" fill="#fff" stroke="#6a6a6a" stroke-width="1.25"/>
<text x="121.8" y="668.4" font-size="10.2" text-anchor="middle" stroke="#000" stroke-width="0.2" fill="#000" transform="translate(0 -53.47) scale(1 1.08)">IgG2</text>
<rect x="102.6" y="676" width="38.4" height="230.5" fill="none" stroke="#1c1c1c" stroke-width="1.15"/>
<line x1="113.1" y1="906.5" x2="113.1" y2="909.7" stroke="#000" stroke-width="1.1"/>
<text x="119.5" y="917" font-size="10.9" text-anchor="end" stroke="#111" stroke-width="0.2" fill="#111" transform="rotate(-45 119.5 917) translate(0 -73.36) scale(1 1.08)">Blood</text>
<line x1="130.4" y1="906.5" x2="130.4" y2="909.7" stroke="#000" stroke-width="1.1"/>
<text x="136.8" y="917" font-size="10.9" text-anchor="end" stroke="#111" stroke-width="0.2" fill="#111" transform="rotate(-45 136.8 917) translate(0 -73.36) scale(1 1.08)">Tumor</text>
<path d="M145.1 676V657.4Q145.1 656 146.5 656H182.1Q183.5 656 183.5 657.4V676" fill="#fff" stroke="#6a6a6a" stroke-width="1.25"/>
<text x="164.3" y="668.4" font-size="10.2" text-anchor="middle" stroke="#000" stroke-width="0.2" fill="#000" transform="translate(0 -53.47) scale(1 1.08)">IgG3</text>
<rect x="145.1" y="676" width="38.4" height="230.5" fill="none" stroke="#1c1c1c" stroke-width="1.15"/>
<line x1="155.6" y1="906.5" x2="155.6" y2="909.7" stroke="#000" stroke-width="1.1"/>
<text x="162" y="917" font-size="10.9" text-anchor="end" stroke="#111" stroke-width="0.2" fill="#111" transform="rotate(-45 162 917) translate(0 -73.36) scale(1 1.08)">Blood</text>
<line x1="172.9" y1="906.5" x2="172.9" y2="909.7" stroke="#000" stroke-width="1.1"/>
<text x="179.3" y="917" font-size="10.9" text-anchor="end" stroke="#111" stroke-width="0.2" fill="#111" transform="rotate(-45 179.3 917) translate(0 -73.36) scale(1 1.08)">Tumor</text>
<path d="M187.6 676V657.4Q187.6 656 189 656H224.6Q226 656 226 657.4V676" fill="#fff" stroke="#6a6a6a" stroke-width="1.25"/>
<text x="206.8" y="668.4" font-size="10.2" text-anchor="middle" stroke="#000" stroke-width="0.2" fill="#000" transform="translate(0 -53.47) scale(1 1.08)">IgG4</text>
<rect x="187.6" y="676" width="38.4" height="230.5" fill="none" stroke="#1c1c1c" stroke-width="1.15"/>
<line x1="198.1" y1="906.5" x2="198.1" y2="909.7" stroke="#000" stroke-width="1.1"/>
<text x="204.5" y="917" font-size="10.9" text-anchor="end" stroke="#111" stroke-width="0.2" fill="#111" transform="rotate(-45 204.5 917) translate(0 -73.36) scale(1 1.08)">Blood</text>
<line x1="215.4" y1="906.5" x2="215.4" y2="909.7" stroke="#000" stroke-width="1.1"/>
<text x="221.8" y="917" font-size="10.9" text-anchor="end" stroke="#111" stroke-width="0.2" fill="#111" transform="rotate(-45 221.8 917) translate(0 -73.36) scale(1 1.08)">Tumor</text>
<path d="M230.1 676V657.4Q230.1 656 231.5 656H267.1Q268.5 656 268.5 657.4V676" fill="#fff" stroke="#6a6a6a" stroke-width="1.25"/>
<text x="249.3" y="668.4" font-size="10.2" text-anchor="middle" stroke="#000" stroke-width="0.2" fill="#000" transform="translate(0 -53.47) scale(1 1.08)">IgM</text>
<rect x="230.1" y="676" width="38.4" height="230.5" fill="none" stroke="#1c1c1c" stroke-width="1.15"/>
<line x1="240.6" y1="906.5" x2="240.6" y2="909.7" stroke="#000" stroke-width="1.1"/>
<text x="247" y="917" font-size="10.9" text-anchor="end" stroke="#111" stroke-width="0.2" fill="#111" transform="rotate(-45 247 917) translate(0 -73.36) scale(1 1.08)">Blood</text>
<line x1="257.9" y1="906.5" x2="257.9" y2="909.7" stroke="#000" stroke-width="1.1"/>
<text x="264.3" y="917" font-size="10.9" text-anchor="end" stroke="#111" stroke-width="0.2" fill="#111" transform="rotate(-45 264.3 917) translate(0 -73.36) scale(1 1.08)">Tumor</text>
<line x1="57.3" y1="683.2" x2="60.1" y2="683.2" stroke="#000" stroke-width="1"/>
<text x="55.4" y="686.5" font-size="9.3" text-anchor="end" stroke="#111" stroke-width="0.2" fill="#111" transform="translate(0 -54.92) scale(1 1.08)">IGHV3−30</text>
<line x1="57.3" y1="695.2" x2="60.1" y2="695.2" stroke="#000" stroke-width="1"/>
<text x="55.4" y="698.5" font-size="9.3" text-anchor="end" stroke="#111" stroke-width="0.2" fill="#111" transform="translate(0 -55.88) scale(1 1.08)">IGHV2−70</text>
<line x1="57.3" y1="707.2" x2="60.1" y2="707.2" stroke="#000" stroke-width="1"/>
<text x="55.4" y="710.5" font-size="9.3" text-anchor="end" stroke="#111" stroke-width="0.2" fill="#111" transform="translate(0 -56.84) scale(1 1.08)">IGHV3−13</text>
<line x1="57.3" y1="719.2" x2="60.1" y2="719.2" stroke="#000" stroke-width="1"/>
<text x="55.4" y="722.5" font-size="9.3" text-anchor="end" stroke="#111" stroke-width="0.2" fill="#111" transform="translate(0 -57.8) scale(1 1.08)">IGHV3−11</text>
<line x1="57.3" y1="731.2" x2="60.1" y2="731.2" stroke="#000" stroke-width="1"/>
<text x="55.4" y="734.5" font-size="9.3" text-anchor="end" stroke="#111" stroke-width="0.2" fill="#111" transform="translate(0 -58.76) scale(1 1.08)">IGHV3−74</text>
<line x1="57.3" y1="743.2" x2="60.1" y2="743.2" stroke="#000" stroke-width="1"/>
<text x="55.4" y="746.5" font-size="9.3" text-anchor="end" stroke="#111" stroke-width="0.2" fill="#111" transform="translate(0 -59.72) scale(1 1.08)">IGHV3−53</text>
<line x1="57.3" y1="755.2" x2="60.1" y2="755.2" stroke="#000" stroke-width="1"/>
<text x="55.4" y="758.5" font-size="9.3" text-anchor="end" stroke="#111" stroke-width="0.2" fill="#111" transform="translate(0 -60.68) scale(1 1.08)">IGHV3−48</text>
<line x1="57.3" y1="767.2" x2="60.1" y2="767.2" stroke="#000" stroke-width="1"/>
<text x="55.4" y="770.5" font-size="9.3" text-anchor="end" stroke="#111" stroke-width="0.2" fill="#111" transform="translate(0 -61.64) scale(1 1.08)">IGHV4−59</text>
<line x1="57.3" y1="779.2" x2="60.1" y2="779.2" stroke="#000" stroke-width="1"/>
<text x="55.4" y="782.5" font-size="9.3" text-anchor="end" stroke="#111" stroke-width="0.2" fill="#111" transform="translate(0 -62.6) scale(1 1.08)">IGHV4−4</text>
<line x1="57.3" y1="791.2" x2="60.1" y2="791.2" stroke="#000" stroke-width="1"/>
<text x="55.4" y="794.5" font-size="9.3" text-anchor="end" stroke="#111" stroke-width="0.2" fill="#111" transform="translate(0 -63.56) scale(1 1.08)">IGHV5−51</text>
<line x1="57.3" y1="803.2" x2="60.1" y2="803.2" stroke="#000" stroke-width="1"/>
<text x="55.4" y="806.5" font-size="9.3" text-anchor="end" stroke="#111" stroke-width="0.2" fill="#111" transform="translate(0 -64.52) scale(1 1.08)">IGHV4−39</text>
<line x1="57.3" y1="815.2" x2="60.1" y2="815.2" stroke="#000" stroke-width="1"/>
<text x="55.4" y="818.5" font-size="9.3" text-anchor="end" stroke="#111" stroke-width="0.2" fill="#111" transform="translate(0 -65.48) scale(1 1.08)">IGHV3−23</text>
<line x1="57.3" y1="827.2" x2="60.1" y2="827.2" stroke="#000" stroke-width="1"/>
<text x="55.4" y="830.5" font-size="9.3" text-anchor="end" stroke="#111" stroke-width="0.2" fill="#111" transform="translate(0 -66.44) scale(1 1.08)">IGHV5−10−1</text>
<line x1="57.3" y1="839.2" x2="60.1" y2="839.2" stroke="#000" stroke-width="1"/>
<text x="55.4" y="842.5" font-size="9.3" text-anchor="end" stroke="#111" stroke-width="0.2" fill="#111" transform="translate(0 -67.4) scale(1 1.08)">IGHV3−15</text>
<line x1="57.3" y1="851.2" x2="60.1" y2="851.2" stroke="#000" stroke-width="1"/>
<text x="55.4" y="854.5" font-size="9.3" text-anchor="end" stroke="#111" stroke-width="0.2" fill="#111" transform="translate(0 -68.36) scale(1 1.08)">IGHV2−5</text>
<line x1="57.3" y1="863.2" x2="60.1" y2="863.2" stroke="#000" stroke-width="1"/>
<text x="55.4" y="866.5" font-size="9.3" text-anchor="end" stroke="#111" stroke-width="0.2" fill="#111" transform="translate(0 -69.32) scale(1 1.08)">IGHV1−2</text>
<line x1="57.3" y1="875.2" x2="60.1" y2="875.2" stroke="#000" stroke-width="1"/>
<text x="55.4" y="878.5" font-size="9.3" text-anchor="end" stroke="#111" stroke-width="0.2" fill="#111" transform="translate(0 -70.28) scale(1 1.08)">IGHV3−9</text>
<line x1="57.3" y1="887.2" x2="60.1" y2="887.2" stroke="#000" stroke-width="1"/>
<text x="55.4" y="890.5" font-size="9.3" text-anchor="end" stroke="#111" stroke-width="0.2" fill="#111" transform="translate(0 -71.24) scale(1 1.08)">IGHV4−31</text>
<line x1="57.3" y1="899.2" x2="60.1" y2="899.2" stroke="#000" stroke-width="1"/>
<text x="55.4" y="902.5" font-size="9.3" text-anchor="end" stroke="#111" stroke-width="0.2" fill="#111" transform="translate(0 -72.2) scale(1 1.08)">IGHV3−20</text>
<defs><linearGradient id="cb" x1="0" y1="1" x2="0" y2="0"><stop offset="0.021" stop-color="#ffffff"/><stop offset="0.119" stop-color="#f1f7fe"/><stop offset="0.217" stop-color="#e3effe"/><stop offset="0.315" stop-color="#d4e7fd"/><stop offset="0.413" stop-color="#c5dffc"/><stop offset="0.510" stop-color="#b6d7fc"/><stop offset="0.608" stop-color="#a6cffb"/><stop offset="0.706" stop-color="#95c8fa"/><stop offset="0.804" stop-color="#82c0f9"/><stop offset="0.902" stop-color="#6eb8f8"/><stop offset="1.000" stop-color="#56b1f7"/></linearGradient></defs>
<rect x="293.4" y="656" width="9.8" height="81.5" fill="url(#cb)" stroke="#000" stroke-width="0.9"/>
<line x1="293.4" y1="735.8" x2="295.4" y2="735.8" stroke="#000" stroke-width="0.8"/>
<line x1="301.2" y1="735.8" x2="303.2" y2="735.8" stroke="#000" stroke-width="0.8"/>
<text x="292.4" y="738.8" font-size="8.6" text-anchor="end" stroke="#111" stroke-width="0.2" fill="#111" transform="translate(0 -59.1) scale(1 1.08)">0</text>
<line x1="293.4" y1="716.2" x2="295.4" y2="716.2" stroke="#000" stroke-width="0.8"/>
<line x1="301.2" y1="716.2" x2="303.2" y2="716.2" stroke="#000" stroke-width="0.8"/>
<text x="292.4" y="719.2" font-size="8.6" text-anchor="end" stroke="#111" stroke-width="0.2" fill="#111" transform="translate(0 -57.54) scale(1 1.08)">1</text>
<line x1="293.4" y1="696.6" x2="295.4" y2="696.6" stroke="#000" stroke-width="0.8"/>
<line x1="301.2" y1="696.6" x2="303.2" y2="696.6" stroke="#000" stroke-width="0.8"/>
<text x="292.4" y="699.6" font-size="8.6" text-anchor="end" stroke="#111" stroke-width="0.2" fill="#111" transform="translate(0 -55.97) scale(1 1.08)">2</text>
<line x1="293.4" y1="677.1" x2="295.4" y2="677.1" stroke="#000" stroke-width="0.8"/>
<line x1="301.2" y1="677.1" x2="303.2" y2="677.1" stroke="#000" stroke-width="0.8"/>
<text x="292.4" y="680.1" font-size="8.6" text-anchor="end" stroke="#111" stroke-width="0.2" fill="#111" transform="translate(0 -54.41) scale(1 1.08)">3</text>
<line x1="293.4" y1="665" x2="295.4" y2="665" stroke="#000" stroke-width="0.8"/>
<line x1="301.2" y1="665" x2="303.2" y2="665" stroke="#000" stroke-width="0.8"/>
<text x="292.4" y="668" font-size="8.6" text-anchor="end" stroke="#111" stroke-width="0.2" fill="#111" transform="translate(0 -53.44) scale(1 1.08)">4</text>
<text x="283.6" y="696" font-size="10.35" text-anchor="middle" stroke="#111" stroke-width="0.2" fill="#111" transform="rotate(-90 283.6 696) translate(0 -55.68) scale(1 1.08)">log2(1 + count)</text>
<text x="401.9" y="658" font-size="12.6" text-anchor="middle" font-weight="bold" stroke="#000" stroke-width="0.12" fill="#000">Blood</text>
<text x="541" y="658" font-size="12.6" text-anchor="middle" font-weight="bold" stroke="#000" stroke-width="0.12" fill="#000">Tumor</text>
<text x="327.6" y="724.1" font-size="12.8" text-anchor="middle" stroke="#111" stroke-width="0.2" fill="#111" transform="rotate(-90 327.6 724.1) translate(0 -57.93) scale(1 1.08)">Heavy chains</text>
<text x="327.6" y="874.5" font-size="12.8" text-anchor="middle" stroke="#111" stroke-width="0.2" fill="#111" transform="rotate(-90 327.6 874.5) translate(0 -69.96) scale(1 1.08)">Light chains</text>
<path d="M393.7 667.9L405.2 676.6L423.1 693.5M405.2 676.6L416.9 675.4M416.9 675.4L409.9 668.8M416.9 675.4L426.2 673.1M423.1 693.5L443.7 703M423.1 693.5L394.1 699.5L359.2 703.2M443.7 703L441 683.4M443.7 703L452.5 717.2L461.5 728.3M452.5 717.2L451.9 706.1L452.2 696.4M451.9 706.1L458.9 711.4M376.1 673.8L371.5 682.2L363.5 691.8L359.2 703.2L343.4 711.4M371.5 682.2L361.8 682.4M363.5 691.8L350.4 695.9M394.1 699.5L387.8 727.9L383.1 768.5M341.1 728.4L347.3 736.9L352.4 747.1L360.6 756.8L371.7 764.7L383.1 768.5L392.5 788.3M347.3 736.9L343.4 745.7M352.4 747.1L350.8 760.9M360.6 756.8L361.3 774M371.7 764.7L376.5 783.7M387.8 727.9L394.1 736.4L401.7 731.1L401.7 728.4M394.1 736.4L409.9 788.9M401.7 728.4L458.9 745.1M401.7 731.1L437.9 765L451.9 761.1M437.9 765L431.1 774.3L440.5 774.3M431.1 774.3L426.8 783.1" fill="none" stroke="#1c1c1c" stroke-width="0.9" stroke-linejoin="round"/>
<circle cx="391.6" cy="665.3" r="2.05" fill="#0000f0" stroke="none" stroke-width="1"/>
<circle cx="410.4" cy="665.3" r="2.05" fill="#0000f0" stroke="none" stroke-width="1"/>
<circle cx="428.9" cy="671.7" r="1.85" fill="#f9b0b0" stroke="#b86a6a" stroke-width="0.45"/>
<circle cx="443.1" cy="680.1" r="1.85" fill="#f9d6d6" stroke="#c8a0a0" stroke-width="0.45"/>
<circle cx="454.8" cy="693.9" r="2.05" fill="#0000f0" stroke="none" stroke-width="1"/>
<circle cx="463.2" cy="711.2" r="1.85" fill="#f9d6d6" stroke="#c8a0a0" stroke-width="0.45"/>
<circle cx="465" cy="728.9" r="2.05" fill="#0000f0" stroke="none" stroke-width="1"/>
<circle cx="462.1" cy="746.3" r="2.05" fill="#ee0000" stroke="none" stroke-width="1"/>
<circle cx="455.6" cy="762.9" r="2.05" fill="#ee0000" stroke="none" stroke-width="1"/>
<circle cx="442.2" cy="776.9" r="2.05" fill="#0000f0" stroke="none" stroke-width="1"/>
<circle cx="428.3" cy="786.3" r="1.85" fill="#f9d6d6" stroke="#c8a0a0" stroke-width="0.45"/>
<circle cx="411.3" cy="791.8" r="2.05" fill="#0000f0" stroke="none" stroke-width="1"/>
<circle cx="392.2" cy="792.1" r="1.85" fill="#f47474" stroke="#b86a6a" stroke-width="0.45"/>
<circle cx="375.2" cy="787.4" r="2.05" fill="#0000f0" stroke="none" stroke-width="1"/>
<circle cx="359.9" cy="777.2" r="1.85" fill="#e08080" stroke="#b86a6a" stroke-width="0.45"/>
<circle cx="347.8" cy="764.1" r="2.05" fill="#ee0000" stroke="none" stroke-width="1"/>
<circle cx="340.3" cy="747.8" r="2.05" fill="#0000f0" stroke="none" stroke-width="1"/>
<circle cx="337.2" cy="728.8" r="2.05" fill="#0000f0" stroke="none" stroke-width="1"/>
<circle cx="339.3" cy="711.4" r="2.05" fill="#0000f0" stroke="none" stroke-width="1"/>
<circle cx="347.2" cy="694.1" r="2.05" fill="#ee0000" stroke="none" stroke-width="1"/>
<circle cx="358.8" cy="680.7" r="2.05" fill="#0000f0" stroke="none" stroke-width="1"/>
<circle cx="375.3" cy="670.2" r="2.05" fill="#0000f0" stroke="none" stroke-width="1"/>
<polygon points="412.8,794.89 413.43,796.01 414.71,796 414.06,797.1 414.71,798.2 413.43,798.19 412.8,799.31 412.17,798.19 410.89,798.2 411.54,797.1 410.89,796 412.17,796.01" fill="#14e0e2"/>
<path d="M536 672.3L529.6 677.8L521.4 682.8L514.1 690.4L499.2 691.3M529.6 677.8L522.2 675M521.4 682.8L509.7 682M514.1 690.4L533.6 686.6L556.3 677.5M533.6 686.6L517.9 696L491 703.4M517.9 696L547.1 699.5L580.8 701.1M485.8 716.6L526.6 706.1L547.1 699.5M526.6 706.1L529.6 731.8M556.3 677.5L550.4 672.3M556.3 677.5L564.5 675.2M580.8 701.1L577.3 682.2M580.8 701.1L590.1 713.1L597.7 723.6L602.6 730.7M590.1 713.1L588.4 700.3L587.8 691.5M588.4 700.3L596 703.4M597.7 723.6L600.7 716.6M484 731.1L489.3 738.1L496.9 749L509.7 761.5L523.1 769L536 789.8M489.3 738.1L485.8 744.5M496.9 749L497.8 761.5L498.6 769.6M497.8 761.5L491 758M509.7 761.5L517.3 779L522 786M517.3 779L509.7 779.3M523.1 769L529.6 731.7M529.6 731.7L539.8 736.9L543.6 732.8L543.6 731.2M543.4 731.7L600.7 744.9M543.4 732.8L588.4 761.5L595.8 758.2M588.4 761.5L587.2 769.6M539.8 736.9L564.8 778.4L576.7 779.6M564.8 778.4L557.1 783.6L564.8 786.8M557.1 783.6L550.4 789.7" fill="none" stroke="#1c1c1c" stroke-width="0.9" stroke-linejoin="round"/>
<circle cx="535.4" cy="668.2" r="1.85" fill="#f9b0b0" stroke="#b86a6a" stroke-width="0.45"/>
<circle cx="521" cy="672" r="1.85" fill="#f9b0b0" stroke="#b86a6a" stroke-width="0.45"/>
<circle cx="507.1" cy="679.3" r="1.85" fill="#f9b0b0" stroke="#b86a6a" stroke-width="0.45"/>
<circle cx="495.9" cy="689" r="1.85" fill="#f9b0b0" stroke="#b86a6a" stroke-width="0.45"/>
<circle cx="487.8" cy="701.1" r="2.05" fill="#0000f0" stroke="none" stroke-width="1"/>
<circle cx="482" cy="715.5" r="1.85" fill="#f9b0b0" stroke="#b86a6a" stroke-width="0.45"/>
<circle cx="480.3" cy="730.9" r="2.05" fill="#0000f0" stroke="none" stroke-width="1"/>
<circle cx="482" cy="746.3" r="2.05" fill="#0000f0" stroke="none" stroke-width="1"/>
<circle cx="487.5" cy="760.3" r="2.05" fill="#0000f0" stroke="none" stroke-width="1"/>
<circle cx="496" cy="773.1" r="2.05" fill="#ee0000" stroke="none" stroke-width="1"/>
<circle cx="507.6" cy="782.8" r="2.05" fill="#0000f0" stroke="none" stroke-width="1"/>
<circle cx="520.8" cy="789.7" r="2.05" fill="#0000f0" stroke="none" stroke-width="1"/>
<circle cx="535" cy="793.8" r="2.05" fill="#0000f0" stroke="none" stroke-width="1"/>
<circle cx="550.8" cy="793.3" r="2.05" fill="#0000f0" stroke="none" stroke-width="1"/>
<circle cx="566.4" cy="789.3" r="2.05" fill="#0000f0" stroke="none" stroke-width="1"/>
<circle cx="579.6" cy="783.1" r="2.05" fill="#ee0000" stroke="none" stroke-width="1"/>
<circle cx="591" cy="772.6" r="2.05" fill="#0000f0" stroke="none" stroke-width="1"/>
<circle cx="599.3" cy="760.1" r="2.05" fill="#0000f0" stroke="none" stroke-width="1"/>
<circle cx="604.2" cy="745.3" r="2.05" fill="#0000f0" stroke="none" stroke-width="1"/>
<circle cx="606.5" cy="730.3" r="2.05" fill="#0000f0" stroke="none" stroke-width="1"/>
<circle cx="604.2" cy="714.9" r="2.05" fill="#ee0000" stroke="none" stroke-width="1"/>
<circle cx="598.9" cy="701.1" r="2.05" fill="#0000f0" stroke="none" stroke-width="1"/>
<circle cx="590.4" cy="689" r="2.05" fill="#0000f0" stroke="none" stroke-width="1"/>
<circle cx="578.8" cy="678.7" r="2.05" fill="#0000f0" stroke="none" stroke-width="1"/>
<circle cx="566" cy="672" r="2.05" fill="#0000f0" stroke="none" stroke-width="1"/>
<circle cx="551" cy="668.4" r="2.05" fill="#0000f0" stroke="none" stroke-width="1"/>
<polygon points="570.1,791.59 570.73,792.71 572.01,792.7 571.36,793.8 572.01,794.9 570.73,794.89 570.1,796 569.47,794.89 568.19,794.9 568.84,793.8 568.19,792.7 569.47,792.71" fill="#14e0e2"/>
<polygon points="603.9,695.79 604.53,696.91 605.81,696.9 605.16,698 605.81,699.1 604.53,699.09 603.9,700.21 603.27,699.09 601.99,699.1 602.64,698 601.99,696.9 603.27,696.91" fill="#14e0e2"/>
<polygon points="594.5,683.29 595.13,684.41 596.41,684.4 595.76,685.5 596.41,686.6 595.13,686.59 594.5,687.71 593.87,686.59 592.59,686.6 593.24,685.5 592.59,684.4 593.87,684.41" fill="#14e0e2"/>
<path d="M400.7 818.8L393.6 823.7L378.5 837.1L362.1 843.5L350.1 848.4M393.6 823.7L385.8 820.2M362.1 843.5L367.6 835.1L371.5 826.6M367.6 835.1L359.2 836.3M378.5 837.1L367.1 864.6M367.1 864.6L353.4 891.9M367.1 864.6L369.7 886.6M344 862.8L346.9 871.6L349.3 881.9L353.4 891.9L349.3 907.6M346.9 871.6L341.7 878M349.3 881.9L343.4 893.6M369.7 886.6L367.6 921.1L359.2 919.9M367.6 921.1L371.5 929.2M369.7 886.6L380.8 899.5L385.5 935.1M380.8 899.5L390.7 903.3L401.1 937.4M390.7 903.3L399.3 902.6L416.9 936.2M399.3 902.6L406.7 897.1L434.4 921.6L443.1 920.1M434.4 921.6L430.9 929.2M406.7 897.1L396.8 876.7L434.1 848.4L416.6 821.1M422.5 827.8L430.9 826.4M396.8 876.7L399.3 878.4L458.3 893.6M399.3 879.6L452.5 908M434.1 848.4L448.4 863.2L460.7 878M448.4 863.2L444.3 850L443.5 836.5M444.3 850L450.7 856.4L452.5 848.4M450.7 856.4L458.3 862.5" fill="none" stroke="#1c1c1c" stroke-width="0.9" stroke-linejoin="round"/>
<circle cx="401.8" cy="815.3" r="1.85" fill="#f26410" stroke="#c04c08" stroke-width="0.45"/>
<circle cx="384.3" cy="817.5" r="1.85" fill="#f26410" stroke="#c04c08" stroke-width="0.45"/>
<circle cx="368.9" cy="823.5" r="1.85" fill="#f26410" stroke="#c04c08" stroke-width="0.45"/>
<circle cx="356.9" cy="833.6" r="1.85" fill="#f26410" stroke="#c04c08" stroke-width="0.45"/>
<circle cx="346.6" cy="846.8" r="1.85" fill="#f26410" stroke="#c04c08" stroke-width="0.45"/>
<circle cx="340.3" cy="861.6" r="1.85" fill="#f26410" stroke="#c04c08" stroke-width="0.45"/>
<circle cx="337.9" cy="877.4" r="1.85" fill="#f26410" stroke="#c04c08" stroke-width="0.45"/>
<circle cx="340.3" cy="894.8" r="1.85" fill="#f26410" stroke="#c04c08" stroke-width="0.45"/>
<circle cx="346.7" cy="909.7" r="1.85" fill="#f26410" stroke="#c04c08" stroke-width="0.45"/>
<circle cx="356.6" cy="923" r="1.85" fill="#f26410" stroke="#c04c08" stroke-width="0.45"/>
<circle cx="369.7" cy="932.5" r="1.85" fill="#f26410" stroke="#c04c08" stroke-width="0.45"/>
<circle cx="384.3" cy="939.2" r="1.85" fill="#f26410" stroke="#c04c08" stroke-width="0.45"/>
<circle cx="417.8" cy="817.5" r="1.85" fill="#ffff00" stroke="#a8a000" stroke-width="0.45"/>
<circle cx="433" cy="823.7" r="1.85" fill="#ffff00" stroke="#a8a000" stroke-width="0.45"/>
<circle cx="445.8" cy="834" r="1.85" fill="#ffff00" stroke="#a8a000" stroke-width="0.45"/>
<circle cx="456" cy="846.5" r="1.85" fill="#ffff00" stroke="#a8a000" stroke-width="0.45"/>
<circle cx="462.2" cy="862" r="1.85" fill="#ffff00" stroke="#a8a000" stroke-width="0.45"/>
<circle cx="464.2" cy="878.8" r="1.85" fill="#ffff00" stroke="#a8a000" stroke-width="0.45"/>
<circle cx="462.4" cy="894.8" r="1.85" fill="#ffff00" stroke="#a8a000" stroke-width="0.45"/>
<circle cx="456.2" cy="909.6" r="1.85" fill="#ffff00" stroke="#a8a000" stroke-width="0.45"/>
<circle cx="446.6" cy="922.6" r="1.85" fill="#ffff00" stroke="#a8a000" stroke-width="0.45"/>
<circle cx="433" cy="933.1" r="1.85" fill="#ffff00" stroke="#a8a000" stroke-width="0.45"/>
<circle cx="418" cy="939.4" r="1.85" fill="#ffff00" stroke="#a8a000" stroke-width="0.45"/>
<circle cx="402" cy="941.5" r="1.85" fill="#ffff00" stroke="#a8a000" stroke-width="0.45"/>
<polygon points="383.1,942.19 383.73,943.31 385.01,943.3 384.36,944.4 385.01,945.5 383.73,945.49 383.1,946.61 382.47,945.49 381.19,945.5 381.84,944.4 381.19,943.3 382.47,943.31" fill="#14e0e2"/>
<path d="M526.6 826.4L521.4 833.6L518.5 878M521.4 833.6L513.2 833.3M501.3 844.1L501 853.5L500.6 868.1M501 853.5L493.4 857.3M500.6 868.1L493.4 879.7L489.3 872.2M493.4 879.7L489.3 887.8M500.6 868.1L510.3 890.7L513.4 914L501.3 907.6L493.4 902.6M501.3 907.6L501.3 915.8M513.4 914L521.4 926.3L526.6 933.7M521.4 926.3L513.2 926.3M510.3 890.7L549.4 932.2L557.4 935.7M549.4 932.2L542.4 936.5M518.5 878L526.6 905.9M518.5 878L534.8 899.5L541.2 877.4M534.8 899.5L575.5 922.2L584.7 921.6M575.5 922.2L572.3 930.4M541.2 877.4L545.2 880.2L600.7 895.6M541.2 877.4L544.6 881.9L594.6 910M541.2 877.4L569.9 848.6L553.4 830.9L542.3 823.1M553.4 830.9L562.7 830.7L557.4 824.3M562.7 830.7L571.8 829.3M569.9 848.6L588.4 860.5L597.5 872.5L603 879.5M588.4 860.5L586.6 847.3L584.9 838.3M586.6 847.3L594.8 850.5M597.5 872.5L600.7 865.1" fill="none" stroke="#1c1c1c" stroke-width="0.9" stroke-linejoin="round"/>
<circle cx="524.9" cy="822.8" r="1.85" fill="#f26410" stroke="#c04c08" stroke-width="0.45"/>
<circle cx="510.9" cy="830.1" r="1.85" fill="#f26410" stroke="#c04c08" stroke-width="0.45"/>
<circle cx="541.9" cy="819" r="1.85" fill="#f26410" stroke="#c04c08" stroke-width="0.45"/>
<circle cx="558.6" cy="820" r="1.85" fill="#f26410" stroke="#c04c08" stroke-width="0.45"/>
<circle cx="573.8" cy="825.8" r="1.85" fill="#f26410" stroke="#c04c08" stroke-width="0.45"/>
<circle cx="587" cy="835.1" r="1.85" fill="#f26410" stroke="#c04c08" stroke-width="0.45"/>
<circle cx="597.4" cy="847.9" r="1.85" fill="#f26410" stroke="#c04c08" stroke-width="0.45"/>
<circle cx="604.2" cy="864" r="1.85" fill="#f26410" stroke="#c04c08" stroke-width="0.45"/>
<circle cx="606.5" cy="880" r="1.85" fill="#f26410" stroke="#c04c08" stroke-width="0.45"/>
<circle cx="604.7" cy="896.2" r="1.85" fill="#f26410" stroke="#c04c08" stroke-width="0.45"/>
<circle cx="597.7" cy="911.7" r="1.85" fill="#f26410" stroke="#c04c08" stroke-width="0.45"/>
<circle cx="587.5" cy="925.1" r="1.85" fill="#f26410" stroke="#c04c08" stroke-width="0.45"/>
<circle cx="573.8" cy="934.3" r="1.85" fill="#f26410" stroke="#c04c08" stroke-width="0.45"/>
<circle cx="559" cy="939.5" r="1.85" fill="#f26410" stroke="#c04c08" stroke-width="0.45"/>
<circle cx="541.5" cy="941.1" r="1.85" fill="#f26410" stroke="#c04c08" stroke-width="0.45"/>
<circle cx="498.6" cy="841.8" r="1.85" fill="#ffff00" stroke="#a8a000" stroke-width="0.45"/>
<circle cx="489.9" cy="856.2" r="1.85" fill="#ffff00" stroke="#a8a000" stroke-width="0.45"/>
<circle cx="485.8" cy="871.3" r="1.85" fill="#ffff00" stroke="#a8a000" stroke-width="0.45"/>
<circle cx="485.4" cy="888" r="1.85" fill="#ffff00" stroke="#a8a000" stroke-width="0.45"/>
<circle cx="489.9" cy="904.1" r="1.85" fill="#ffff00" stroke="#a8a000" stroke-width="0.45"/>
<circle cx="498.6" cy="919" r="1.85" fill="#ffff00" stroke="#a8a000" stroke-width="0.45"/>
<circle cx="510.6" cy="929.6" r="1.85" fill="#ffff00" stroke="#a8a000" stroke-width="0.45"/>
<circle cx="525.1" cy="937.8" r="1.85" fill="#ffff00" stroke="#a8a000" stroke-width="0.45"/>
<polygon points="522.6,814.79 523.23,815.91 524.51,815.9 523.86,817 524.51,818.1 523.23,818.09 522.6,819.21 521.97,818.09 520.69,818.1 521.34,817 520.69,815.9 521.97,815.91" fill="#14e0e2"/>
<polygon points="480.5,868.19 481.13,869.31 482.41,869.3 481.76,870.4 482.41,871.5 481.13,871.49 480.5,872.61 479.87,871.49 478.59,871.5 479.24,870.4 478.59,869.3 479.87,869.31" fill="#14e0e2"/>
<polygon points="523.1,940.79 523.73,941.91 525.01,941.9 524.36,943 525.01,944.1 523.73,944.09 523.1,945.21 522.47,944.09 521.19,944.1 521.84,943 521.19,941.9 522.47,941.91" fill="#14e0e2"/>
<circle cx="620.8" cy="672" r="2.05" fill="#ee0000" stroke="none" stroke-width="1"/>
<text x="626.7" y="675.4" font-size="9.7" text-anchor="start" stroke="#111" stroke-width="0.2" fill="#111" transform="translate(0 -54.03) scale(1 1.08)">IgG1</text>
<circle cx="620.8" cy="683.5" r="1.9" fill="#f9b0b0" stroke="#b86a6a" stroke-width="0.45"/>
<text x="626.7" y="686.9" font-size="9.7" text-anchor="start" stroke="#111" stroke-width="0.2" fill="#111" transform="translate(0 -54.95) scale(1 1.08)">IgG2</text>
<circle cx="620.8" cy="695" r="1.9" fill="#e08080" stroke="#b86a6a" stroke-width="0.45"/>
<text x="626.7" y="698.4" font-size="9.7" text-anchor="start" stroke="#111" stroke-width="0.2" fill="#111" transform="translate(0 -55.87) scale(1 1.08)">IgG3</text>
<circle cx="620.8" cy="706.5" r="1.9" fill="#f9d6d6" stroke="#c8a0a0" stroke-width="0.45"/>
<text x="626.7" y="709.9" font-size="9.7" text-anchor="start" stroke="#111" stroke-width="0.2" fill="#111" transform="translate(0 -56.79) scale(1 1.08)">IgG4</text>
<circle cx="620.8" cy="718" r="2.05" fill="#0000f0" stroke="none" stroke-width="1"/>
<text x="626.7" y="721.4" font-size="9.7" text-anchor="start" stroke="#111" stroke-width="0.2" fill="#111" transform="translate(0 -57.71) scale(1 1.08)">IgM</text>
<polygon points="620.8,727.29 621.43,728.41 622.71,728.4 622.06,729.5 622.71,730.6 621.43,730.59 620.8,731.71 620.17,730.59 618.89,730.6 619.54,729.5 618.89,728.4 620.17,728.41" fill="#14e0e2"/>
<text x="626.7" y="732.9" font-size="9.7" text-anchor="start" stroke="#111" stroke-width="0.2" fill="#111" transform="translate(0 -58.63) scale(1 1.08)">Unproductive</text>
<circle cx="623.3" cy="824.6" r="2.1" fill="#ffff00" stroke="#d8d800" stroke-width="0.4"/>
<text x="628.8" y="827.8" font-size="9.7" text-anchor="start" stroke="#111" stroke-width="0.2" fill="#111" transform="translate(0 -66.22) scale(1 1.08)">Kappa</text>
<circle cx="623.3" cy="836.2" r="2.1" fill="#f26410" stroke="#d85208" stroke-width="0.4"/>
<text x="628.8" y="838.8" font-size="9.7" text-anchor="start" stroke="#111" stroke-width="0.2" fill="#111" transform="translate(0 -67.1) scale(1 1.08)">Lambda</text>
<circle cx="623.3" cy="846.9" r="1.5" fill="#14e0e2" stroke="none" stroke-width="1"/>
<text x="628.8" y="850.2" font-size="9.7" text-anchor="start" stroke="#111" stroke-width="0.2" fill="#111" transform="translate(0 -68.02) scale(1 1.08)">Unproductive</text>
</svg>
</body></html>
